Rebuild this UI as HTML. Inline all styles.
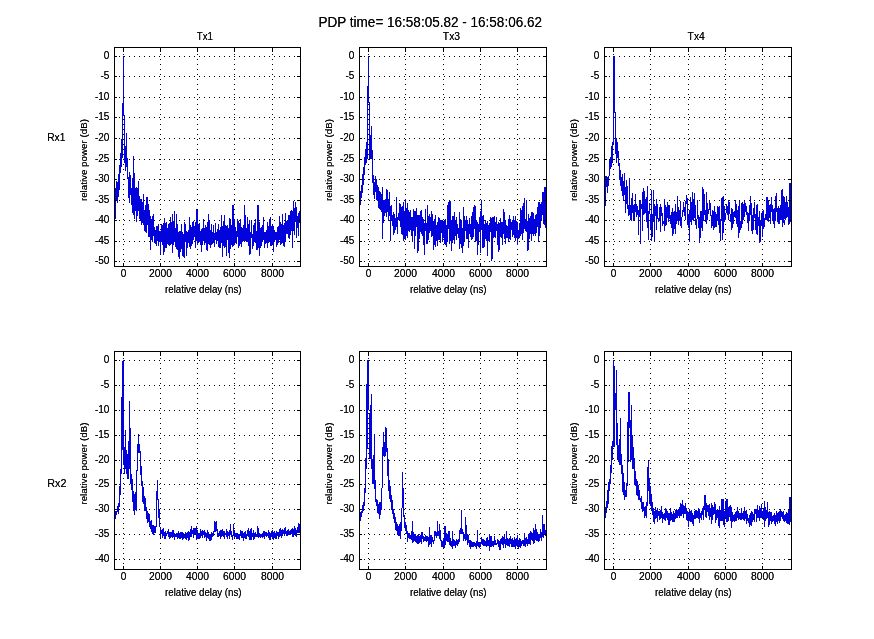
<!DOCTYPE html>
<html><head><meta charset="utf-8"><style>
html,body{margin:0;padding:0;background:#fff;width:874px;height:639px;overflow:hidden}
svg{display:block}
.t{font-family:"Liberation Sans", sans-serif;fill:#000}
</style></head><body>
<svg width="874" height="639" viewBox="0 0 874 639">
<rect width="874" height="639" fill="#fff"/>
<defs><filter id="crisp" x="0" y="0" width="100%" height="100%"><feComponentTransfer><feFuncA type="table" tableValues="0 0.75 1"/></feComponentTransfer></filter></defs>
<g class="t" filter="url(#crisp)">
<text x="318.5" y="26.6" font-size="13.9" text-anchor="start" textLength="223.5" lengthAdjust="spacingAndGlyphs">PDP time= 16:58:05.82 - 16:58:06.62</text>
<text x="196.8" y="39.9" font-size="11.0" text-anchor="start" textLength="16.2" lengthAdjust="spacingAndGlyphs">Tx1</text>
<text x="442.8" y="39.9" font-size="11.0" text-anchor="start" textLength="17.3" lengthAdjust="spacingAndGlyphs">Tx3</text>
<text x="687.6" y="39.9" font-size="11.0" text-anchor="start" textLength="17.2" lengthAdjust="spacingAndGlyphs">Tx4</text>
<text x="47.2" y="141.3" font-size="11.0" text-anchor="start" textLength="18.2" lengthAdjust="spacingAndGlyphs">Rx1</text>
<text x="47.2" y="487.1" font-size="11.0" text-anchor="start" textLength="19.2" lengthAdjust="spacingAndGlyphs">Rx2</text>
</g>
<path d="M114 56.5H300M114 76.5H300M114 97.5H300M114 117.5H300M114 138.5H300M114 159.5H300M114 179.5H300M114 200.5H300M114 220.5H300M114 241.5H300M114 261.5H300M123.5 49V266M160.5 49V266M197.5 49V266M234.5 49V266M272.5 49V266" stroke="#000" stroke-width="1" stroke-dasharray="1 4" fill="none" shape-rendering="crispEdges"/>
<polyline points="114.3,211.3 114.5,224.3 114.7,197.0 114.9,207.4 115.1,187.8 115.3,219.3 115.5,189.1 115.7,210.5 115.9,196.8 116.1,199.1 116.3,181.5 116.3,189.7 116.5,198.7 116.7,194.2 116.9,200.5 117.1,195.2 117.3,201.0 117.5,185.9 117.7,203.0 117.9,181.8 118.1,196.5 118.3,179.1 118.5,193.3 118.7,176.4 118.9,184.4 119.1,165.9 119.3,189.9 119.5,164.6 119.7,182.4 119.9,167.8 120.1,172.5 120.3,163.8 120.5,166.1 120.7,152.9 120.9,165.9 121.2,166.7 121.5,139.2 121.8,166.7 122.1,154.4 122.3,103.2 123.3,103.2 123.5,56.0 123.6,115.9 124.3,115.9 124.5,162.6 124.8,138.0 125.1,166.7 125.4,146.2 125.7,170.8 126.0,150.3 126.2,132.7 126.5,166.7 126.8,150.3 127.1,174.9 127.3,176.6 127.5,166.4 127.7,178.8 127.9,158.5 128.1,192.8 128.3,176.9 128.5,197.8 128.7,181.7 128.9,191.3 129.1,172.3 129.3,196.1 129.5,184.7 129.7,202.6 129.9,183.5 130.1,191.9 130.3,175.4 130.5,194.9 130.7,184.9 130.9,192.2 131.1,190.1 131.3,203.1 131.5,188.9 131.7,205.0 131.9,187.6 132.1,203.4 132.3,177.8 132.5,205.0 132.7,186.0 132.9,213.2 133.1,194.4 133.3,201.3 133.3,156.4 133.5,182.7 133.7,214.5 133.9,196.1 134.1,204.6 134.3,185.4 134.5,219.1 134.7,192.6 134.9,172.8 135.1,200.1 135.3,209.2 135.5,194.9 135.7,208.9 135.9,205.2 136.1,216.3 136.3,196.1 136.5,221.7 136.7,206.0 136.9,186.9 137.1,200.3 137.3,208.0 137.5,192.4 137.7,215.5 137.9,197.2 138.1,180.8 138.3,195.8 138.5,206.5 138.7,199.3 138.9,211.2 139.1,205.7 139.3,217.9 139.5,196.2 139.7,219.2 139.9,202.3 140.1,221.4 140.3,201.7 140.5,221.3 140.7,198.9 140.9,217.6 141.1,207.7 141.3,224.7 141.5,198.7 141.7,221.7 141.9,204.1 142.1,212.6 142.3,211.4 142.5,219.7 142.7,202.0 142.9,222.7 143.1,193.8 143.3,224.6 143.5,212.1 143.7,225.3 143.9,201.9 144.1,226.4 144.3,210.0 144.5,231.1 144.7,211.6 144.9,222.9 145.1,210.9 145.3,232.0 145.5,204.7 145.7,222.0 145.9,215.5 146.1,226.1 146.3,212.7 146.5,232.9 146.7,204.2 146.9,197.3 147.1,212.6 147.3,204.0 147.5,197.1 147.7,225.1 147.9,221.3 148.1,228.7 148.3,213.4 148.5,236.7 148.7,220.9 148.9,204.5 149.1,214.8 149.3,228.7 149.5,216.1 149.7,234.1 149.9,221.2 150.1,249.9 150.3,217.9 150.5,233.6 150.7,216.5 150.9,235.9 151.1,219.1 151.3,235.3 151.5,227.5 151.7,240.4 151.9,222.0 152.1,241.9 152.3,219.7 152.5,241.2 152.7,221.4 152.9,216.1 153.1,226.4 153.3,214.0 153.5,232.7 153.7,235.7 153.9,225.3 154.1,236.1 154.3,226.9 154.5,242.7 154.7,230.2 154.9,236.7 155.1,230.3 155.3,243.7 155.5,230.2 155.7,241.9 155.9,231.5 156.1,245.6 156.3,226.1 156.5,241.3 156.7,233.2 156.9,241.0 157.1,235.0 157.3,241.1 157.5,226.0 157.7,240.8 157.9,234.3 158.1,239.8 158.3,224.1 158.5,240.4 158.7,229.6 158.9,245.5 159.1,230.8 159.3,242.0 159.5,232.9 159.7,234.7 159.9,231.6 160.1,238.3 160.3,254.1 160.5,235.8 160.7,231.2 160.9,240.8 161.1,229.6 161.3,240.7 161.5,231.6 161.7,242.1 161.9,223.6 162.1,244.7 162.3,224.9 162.5,245.3 162.7,230.1 162.9,236.7 163.1,222.9 163.3,237.0 163.5,254.9 163.7,239.2 163.9,232.3 164.1,218.5 164.3,225.3 164.5,252.0 164.7,224.3 164.9,242.4 165.1,247.7 165.3,240.7 165.5,226.5 165.7,236.0 165.9,223.0 166.1,247.9 166.3,221.6 166.5,243.3 166.7,227.6 166.9,239.0 167.1,233.4 167.3,244.4 167.5,227.9 167.7,239.0 167.9,231.7 168.1,234.1 168.3,223.6 168.5,245.3 168.7,228.9 168.9,240.8 169.1,223.7 169.3,246.4 169.5,224.1 169.7,239.9 169.9,222.9 170.1,244.9 170.3,229.3 170.5,235.7 170.7,216.9 170.9,243.6 171.1,231.9 171.3,244.1 171.5,226.2 171.7,242.5 171.9,221.6 172.1,245.0 172.3,214.4 172.5,245.7 172.7,218.6 172.9,253.2 173.1,223.1 173.3,242.9 173.5,227.9 173.7,244.9 173.9,234.9 174.1,211.3 174.3,233.9 174.5,238.6 174.7,211.1 174.9,242.4 175.1,227.9 175.3,240.6 175.5,228.6 175.7,246.7 175.9,236.5 176.1,237.3 176.3,226.4 176.5,249.2 176.7,236.3 176.9,213.6 177.1,231.3 177.3,250.1 177.5,230.3 177.7,246.8 177.9,224.5 178.1,257.3 178.3,231.6 178.5,238.2 178.7,236.0 178.9,246.1 179.1,234.4 179.3,243.0 179.5,231.3 179.7,249.6 179.9,259.0 180.1,247.5 180.3,233.8 180.5,246.3 180.7,231.2 180.9,247.2 181.1,235.5 181.3,249.0 181.5,223.8 181.7,243.4 181.9,237.5 182.1,256.3 182.3,232.4 182.5,242.9 182.7,236.3 182.9,247.1 183.1,257.4 183.3,245.7 183.5,236.3 183.7,241.6 183.9,234.5 184.1,249.8 184.3,232.5 184.5,249.0 184.7,257.9 184.9,221.9 185.1,233.2 185.3,242.0 185.5,237.8 185.7,224.0 185.9,230.5 186.1,241.8 186.3,234.3 186.5,256.3 186.7,231.5 186.9,248.6 187.1,232.5 187.3,240.9 187.5,232.5 187.7,247.5 187.9,232.6 188.1,240.9 188.3,231.8 188.5,242.9 188.7,229.6 188.9,242.6 189.1,226.5 189.3,217.9 189.5,228.6 189.7,246.9 189.9,216.8 190.1,248.7 190.3,225.5 190.5,235.5 190.7,232.6 190.9,242.3 191.1,231.4 191.3,240.5 191.5,228.9 191.7,246.0 191.9,227.4 192.1,242.7 192.3,221.8 192.5,243.8 192.7,222.3 192.9,243.7 193.1,220.7 193.3,239.6 193.5,222.4 193.7,238.0 193.9,222.9 194.1,237.3 194.3,229.6 194.5,236.0 194.7,231.3 194.9,233.4 195.1,221.6 195.3,232.5 195.5,223.8 195.7,247.5 195.9,228.4 196.1,240.9 196.3,228.5 196.5,235.3 196.5,208.9 196.7,221.7 196.9,239.0 197.1,225.7 197.3,243.7 197.5,227.7 197.7,244.7 197.9,209.6 198.1,242.9 198.3,225.9 198.5,236.3 198.7,224.5 198.9,233.2 199.1,228.5 199.3,242.3 199.5,231.4 199.7,237.6 199.9,222.8 200.1,241.7 200.3,230.6 200.5,235.9 200.7,234.1 200.9,244.7 201.1,233.4 201.3,252.0 201.5,228.7 201.7,241.7 201.9,230.8 202.1,239.7 202.3,233.5 202.5,237.3 202.7,228.3 202.9,245.0 203.1,218.8 203.3,240.6 203.5,230.5 203.7,236.3 203.9,229.3 204.1,245.3 204.3,234.9 204.5,243.9 204.7,228.3 204.9,235.4 205.1,225.5 205.3,242.9 205.5,230.8 205.7,239.1 205.9,230.6 206.1,238.7 206.3,226.6 206.5,247.2 206.7,226.7 206.9,250.2 207.1,234.6 207.3,244.5 207.5,230.9 207.7,251.2 207.9,234.0 208.1,214.5 208.3,230.8 208.5,244.0 208.7,226.0 208.9,240.2 209.1,236.0 209.3,244.8 209.5,226.6 209.7,220.1 209.9,232.2 210.1,237.7 210.3,230.1 210.5,246.5 210.7,234.5 210.9,247.5 211.1,232.1 211.3,238.1 211.5,224.3 211.7,245.2 211.9,234.0 212.1,244.1 212.3,235.4 212.5,243.5 212.7,232.4 212.9,240.8 213.1,234.9 213.3,238.1 213.5,229.7 213.7,243.3 213.9,225.2 214.1,246.5 214.3,234.9 214.5,239.9 214.7,233.4 214.9,246.6 215.1,222.8 215.3,238.6 215.5,224.8 215.7,240.2 215.9,227.3 216.1,243.7 216.3,236.2 216.5,242.2 216.7,231.6 216.9,238.5 217.1,233.2 217.3,240.5 217.5,235.9 217.7,238.2 217.9,229.0 218.1,241.5 218.3,227.9 218.5,245.6 218.7,224.2 218.9,246.9 219.1,231.1 219.3,247.5 219.5,229.9 219.7,247.5 219.9,235.7 220.1,247.5 220.3,229.1 220.5,240.1 220.7,235.5 220.9,241.9 221.1,217.0 221.3,242.9 221.5,232.6 221.7,215.0 221.9,224.5 222.1,247.1 222.3,226.5 222.5,245.6 222.7,256.7 222.9,237.9 223.1,221.0 223.3,240.1 223.5,235.6 223.7,246.4 223.9,232.0 224.1,215.2 224.3,232.6 224.5,247.9 224.7,230.6 224.9,240.0 225.1,225.4 225.3,246.7 225.5,230.6 225.7,247.2 225.9,233.9 226.1,238.8 226.3,256.1 226.5,240.2 226.7,225.7 226.9,238.1 227.1,224.9 227.3,237.4 227.5,232.6 227.7,238.8 227.9,233.5 228.1,246.1 228.3,228.3 228.5,243.7 228.7,232.7 228.9,244.6 229.1,258.4 229.3,241.8 229.5,217.8 229.7,239.9 229.9,252.2 230.1,245.7 230.3,233.0 230.5,238.7 230.7,219.0 230.9,245.6 231.1,225.0 231.3,238.6 231.5,228.5 231.7,244.5 231.9,230.0 232.1,246.8 232.3,230.0 232.5,238.5 232.7,234.4 232.9,239.3 233.0,204.8 233.1,226.9 233.3,246.1 233.5,230.4 233.7,243.5 233.9,236.0 234.1,245.2 234.3,225.7 234.5,218.7 234.7,231.1 234.9,239.6 235.1,235.5 235.3,243.4 235.5,226.7 235.7,238.2 235.9,235.9 236.1,244.0 236.3,233.2 236.5,237.5 236.7,234.3 236.9,238.4 237.1,226.2 237.3,237.2 237.5,232.0 237.7,218.8 237.9,227.1 238.1,238.3 238.3,221.0 238.5,247.5 238.7,231.6 238.9,222.8 239.1,224.1 239.3,245.6 239.5,233.4 239.7,239.5 239.9,224.9 240.1,240.7 240.3,219.5 240.5,220.0 240.7,227.9 240.9,244.0 241.1,230.8 241.3,247.1 241.5,226.8 241.7,241.0 241.9,229.7 242.1,239.2 242.3,230.8 242.5,242.3 242.7,228.1 242.9,239.2 243.1,235.8 243.3,241.2 243.5,236.4 243.7,240.0 243.9,225.1 244.1,240.1 244.3,234.8 244.5,241.3 244.6,204.8 244.7,227.6 244.9,237.0 245.1,215.1 245.3,240.9 245.5,219.5 245.7,221.7 245.9,220.2 246.1,242.2 246.3,235.1 246.5,240.1 246.7,228.3 246.9,239.4 247.1,227.8 247.3,241.8 247.5,234.0 247.7,241.3 247.9,217.4 248.1,244.1 248.3,224.5 248.5,245.5 248.7,234.2 248.9,245.5 249.1,226.0 249.3,254.7 249.5,219.8 249.7,241.3 249.9,233.6 250.1,242.2 250.3,235.0 250.5,254.0 250.7,231.8 250.9,244.6 251.1,230.2 251.3,237.5 251.5,219.8 251.7,238.0 251.9,229.9 252.1,241.5 252.3,237.1 252.5,248.7 252.7,234.1 252.9,239.8 253.1,229.6 253.3,242.1 253.5,225.5 253.7,245.5 253.9,232.3 254.1,241.0 254.3,226.4 254.5,222.6 254.7,231.2 254.9,242.2 255.1,235.7 255.3,240.6 255.5,219.0 255.7,242.7 255.9,231.4 256.1,244.7 256.3,230.6 256.5,250.1 256.7,233.4 256.9,241.8 257.1,229.0 257.3,250.1 257.5,235.9 257.7,244.1 257.9,233.2 258.0,204.8 258.1,247.5 258.3,235.0 258.5,242.1 258.7,231.5 258.9,223.4 259.1,255.9 259.3,247.8 259.5,235.9 259.7,221.9 259.9,231.4 260.1,242.8 260.3,234.6 260.5,241.9 260.7,228.1 260.9,248.2 261.1,232.3 261.3,245.5 261.5,227.4 261.7,242.3 261.9,234.6 262.1,237.6 262.3,225.5 262.5,239.1 262.7,232.0 262.9,242.4 263.1,217.0 263.3,220.9 263.5,227.9 263.7,238.7 263.9,236.8 264.1,243.2 264.3,233.1 264.5,247.7 264.7,232.0 264.9,246.7 265.1,232.0 265.3,243.8 265.5,235.0 265.7,238.2 265.9,233.6 266.1,238.2 266.3,236.4 266.5,238.5 266.7,233.1 266.9,242.7 267.1,222.2 267.3,247.8 267.5,235.5 267.7,242.6 267.9,233.8 268.1,242.5 268.3,226.0 268.5,237.0 268.7,227.9 268.9,239.7 269.1,225.2 269.3,241.8 269.5,226.9 269.7,236.4 269.9,219.0 270.1,245.5 270.3,220.3 270.5,217.4 270.7,225.6 270.9,245.2 271.1,225.6 271.3,245.5 271.5,234.5 271.7,240.8 271.9,232.5 272.1,235.9 272.3,232.7 272.5,240.2 272.7,225.3 272.9,243.5 273.1,232.0 273.3,252.1 273.5,226.1 273.7,244.7 273.9,226.8 274.1,236.6 274.3,230.9 274.5,235.4 274.7,230.2 274.9,241.9 275.1,232.6 275.3,239.1 275.5,233.7 275.7,240.4 275.9,232.3 276.1,243.8 276.3,231.6 276.5,246.7 276.7,232.6 276.9,247.2 277.1,226.9 277.3,242.8 277.5,227.1 277.7,245.3 277.9,228.4 278.1,236.1 278.3,226.1 278.5,242.8 278.7,229.8 278.9,241.9 279.1,215.6 279.3,240.0 279.5,227.1 279.7,236.3 279.9,222.2 280.1,238.1 280.3,221.9 280.5,244.8 280.7,221.6 280.9,236.7 281.1,225.6 281.3,243.9 281.5,227.0 281.7,234.1 281.9,224.2 282.1,243.2 282.3,226.1 282.5,235.2 282.7,213.9 282.9,242.5 283.1,229.3 283.3,243.1 283.5,225.1 283.7,242.2 283.9,246.0 284.1,236.2 284.3,247.2 284.5,236.5 284.7,223.4 284.9,232.1 285.1,228.4 285.3,242.3 285.5,228.3 285.7,213.4 285.9,226.5 286.1,234.1 286.3,221.2 286.5,231.9 286.7,223.9 286.9,231.5 287.1,221.7 287.3,232.3 287.5,220.4 287.7,234.2 287.9,223.9 288.1,237.5 288.3,217.7 288.5,234.6 288.7,215.3 288.9,237.4 289.1,219.4 289.3,239.2 289.5,214.9 289.7,232.8 289.9,220.6 290.1,234.3 290.3,224.5 290.5,229.2 290.7,211.0 290.9,234.6 291.1,220.6 291.3,225.8 291.5,219.8 291.7,228.2 291.9,210.1 292.1,248.4 292.3,220.8 292.5,227.5 292.7,211.3 292.9,235.0 293.1,220.6 293.3,228.0 293.5,213.6 293.5,201.1 293.7,230.6 293.9,205.8 294.1,235.0 294.3,207.8 294.5,230.2 294.7,218.8 294.9,225.5 295.1,216.3 295.3,222.3 295.5,217.2 295.7,202.0 295.9,209.8 296.1,229.2 296.3,207.3 296.5,238.1 296.7,218.1 296.9,231.1 297.1,217.7 297.3,225.1 297.5,216.2 297.7,221.6 297.9,215.8 298.1,236.3 298.3,213.3 298.5,220.2 298.7,216.2 298.9,222.5 299.1,210.7 299.3,217.7 299.5,214.3 299.7,222.6" fill="none" stroke="#0303dc" stroke-width="1" shape-rendering="crispEdges"/>
<path d="M114 56.5h3M301 56.5h-4M114 76.5h3M301 76.5h-4M114 97.5h3M301 97.5h-4M114 117.5h3M301 117.5h-4M114 138.5h3M301 138.5h-4M114 159.5h3M301 159.5h-4M114 179.5h3M301 179.5h-4M114 200.5h3M301 200.5h-4M114 220.5h3M301 220.5h-4M114 241.5h3M301 241.5h-4M114 261.5h3M301 261.5h-4M123.5 267v-4M123.5 47v5M160.5 267v-4M160.5 47v5M197.5 267v-4M197.5 47v5M234.5 267v-4M234.5 47v5M272.5 267v-4M272.5 47v5" stroke="#000" stroke-width="1" fill="none" shape-rendering="crispEdges"/>
<rect x="114.5" y="47.5" width="186" height="219" fill="none" stroke="#000" stroke-width="1" shape-rendering="crispEdges"/>
<g class="t" filter="url(#crisp)">
<text x="109.4" y="58.6" font-size="10.0" text-anchor="end">0</text>
<text x="109.4" y="78.6" font-size="10.0" text-anchor="end">-5</text>
<text x="109.4" y="99.6" font-size="10.0" text-anchor="end">-10</text>
<text x="109.4" y="119.6" font-size="10.0" text-anchor="end">-15</text>
<text x="109.4" y="140.6" font-size="10.0" text-anchor="end">-20</text>
<text x="109.4" y="161.6" font-size="10.0" text-anchor="end">-25</text>
<text x="109.4" y="181.6" font-size="10.0" text-anchor="end">-30</text>
<text x="109.4" y="202.6" font-size="10.0" text-anchor="end">-35</text>
<text x="109.4" y="222.6" font-size="10.0" text-anchor="end">-40</text>
<text x="109.4" y="243.6" font-size="10.0" text-anchor="end">-45</text>
<text x="109.4" y="263.6" font-size="10.0" text-anchor="end">-50</text>
<text x="123.5" y="277.0" font-size="10.0" text-anchor="middle">0</text>
<text x="160.5" y="277.0" font-size="10.0" text-anchor="middle" textLength="23.0" lengthAdjust="spacingAndGlyphs">2000</text>
<text x="197.5" y="277.0" font-size="10.0" text-anchor="middle" textLength="23.0" lengthAdjust="spacingAndGlyphs">4000</text>
<text x="234.5" y="277.0" font-size="10.0" text-anchor="middle" textLength="23.0" lengthAdjust="spacingAndGlyphs">6000</text>
<text x="272.5" y="277.0" font-size="10.0" text-anchor="middle" textLength="23.0" lengthAdjust="spacingAndGlyphs">8000</text>
<text x="165.0" y="293.0" font-size="11.0" text-anchor="start" textLength="76.6" lengthAdjust="spacingAndGlyphs">relative delay (ns)</text>
<text transform="translate(86.5 160.1) rotate(-90)" font-size="9.6" text-anchor="middle" textLength="82" lengthAdjust="spacingAndGlyphs">relative power (dB)</text>
</g>
<path d="M359 56.5H546M359 76.5H546M359 97.5H546M359 117.5H546M359 138.5H546M359 159.5H546M359 179.5H546M359 200.5H546M359 220.5H546M359 241.5H546M359 261.5H546M368.5 49V266M405.5 49V266M443.5 49V266M480.5 49V266M517.5 49V266" stroke="#000" stroke-width="1" stroke-dasharray="1 4" fill="none" shape-rendering="crispEdges"/>
<polyline points="359.3,199.0 359.5,204.3 359.7,197.4 359.9,207.6 360.1,197.0 360.3,205.3 360.5,195.4 360.7,202.5 360.9,191.3 361.1,198.2 361.3,184.7 361.5,192.1 361.7,189.8 361.9,198.4 362.1,182.3 362.3,187.0 362.5,174.5 362.7,192.9 362.9,180.6 363.1,184.5 363.3,176.7 363.5,179.7 363.7,167.4 363.9,174.3 364.1,162.3 364.3,169.2 364.5,164.6 364.7,174.5 364.9,157.4 365.1,165.3 365.3,150.6 365.5,161.6 365.7,148.8 365.9,151.8 366.1,162.6 366.4,142.1 366.7,160.6 367.0,146.2 367.2,158.5 367.4,86.3 368.2,86.3 368.4,56.0 368.6,102.3 369.3,102.3 369.5,158.5 369.8,138.0 370.1,158.5 370.4,135.5 370.7,158.5 371.0,142.1 371.2,125.7 371.5,158.5 371.8,138.0 372.1,162.6 372.4,150.3 372.7,175.9 372.9,170.5 373.1,191.3 373.3,175.5 373.5,193.4 373.7,182.1 373.9,195.1 374.1,183.0 374.3,190.0 374.5,182.5 374.7,198.9 374.9,190.7 375.1,192.0 375.4,186.7 375.7,175.7 375.9,181.4 376.2,178.7 376.5,184.5 376.8,199.7 377.1,188.5 377.3,201.3 377.6,185.4 377.9,198.0 378.2,187.5 378.5,208.1 378.7,190.8 379.0,201.7 379.3,197.2 379.6,208.6 379.9,191.5 380.1,204.8 380.4,191.6 380.7,210.4 381.0,192.7 381.3,209.1 381.5,194.3 381.8,211.9 382.1,201.3 382.4,187.5 382.7,195.7 382.8,238.9 382.9,217.1 383.2,200.3 383.5,222.9 383.8,203.2 384.1,215.5 384.3,199.6 384.6,214.1 384.9,202.6 385.2,212.8 385.5,199.1 385.7,209.0 386.0,198.9 386.3,216.5 386.6,189.3 386.9,213.8 387.1,199.1 387.4,211.2 387.7,190.0 388.0,211.9 388.3,202.3 388.5,221.0 388.8,198.8 389.1,215.3 389.4,197.3 389.5,192.1 389.7,216.0 389.9,198.2 390.2,218.4 390.3,240.5 390.5,205.7 390.8,221.7 391.1,204.9 391.3,218.9 391.6,210.1 391.9,221.1 392.2,214.9 392.5,225.9 392.7,218.3 393.0,224.1 393.3,212.0 393.6,234.6 393.9,217.7 394.1,232.6 394.4,214.5 394.7,230.1 395.0,220.2 395.3,229.9 395.5,218.1 395.8,226.4 396.1,219.6 396.4,197.5 396.7,209.2 396.9,227.3 397.2,216.6 397.5,233.8 397.8,216.7 398.1,219.6 398.3,218.3 398.6,220.3 398.9,212.6 399.2,219.6 399.5,203.0 399.7,217.8 400.0,207.8 400.3,224.5 400.6,203.8 400.9,226.7 401.1,207.1 401.4,224.2 401.7,206.9 402.0,233.5 402.3,205.8 402.5,235.4 402.8,213.9 403.1,231.1 403.4,208.4 403.7,240.7 403.9,202.4 404.2,224.9 404.5,213.3 404.8,239.1 405.1,203.3 405.3,199.5 405.3,238.7 405.6,220.2 405.9,230.4 406.2,218.2 406.5,224.8 406.7,207.7 407.0,235.8 407.3,217.2 407.6,238.3 407.9,202.8 408.1,231.2 408.4,209.9 408.7,229.2 409.0,209.7 409.3,232.0 409.5,214.1 409.8,230.6 410.1,218.7 410.4,227.3 410.7,209.9 410.9,229.9 411.2,224.3 411.5,236.4 411.8,217.1 412.1,235.6 412.3,220.9 412.6,242.2 412.9,217.4 413.2,228.2 413.5,221.7 413.7,230.7 414.0,209.0 414.3,229.3 414.6,217.0 414.9,248.5 415.1,221.0 415.4,235.5 415.7,211.1 416.0,228.9 416.3,208.1 416.5,224.8 416.8,211.4 417.1,229.5 417.4,214.6 417.7,228.5 417.9,216.8 418.0,252.8 418.2,235.0 418.5,215.1 418.8,232.0 419.1,214.7 419.3,230.7 419.6,225.2 419.9,238.7 420.2,211.4 420.5,229.6 420.7,221.1 421.0,232.3 421.3,210.3 421.6,233.9 421.9,227.5 422.1,235.7 422.4,220.6 422.7,232.6 423.0,217.1 423.3,245.3 423.5,225.2 423.8,245.3 424.1,222.7 424.4,235.4 424.7,255.2 424.9,234.5 425.2,218.7 425.5,209.5 425.8,226.1 426.1,232.8 426.3,223.5 426.6,244.3 426.9,222.7 427.2,243.8 427.5,205.2 427.7,238.1 428.0,214.5 428.3,235.3 428.6,217.3 428.9,239.8 429.1,214.4 429.4,232.5 429.7,225.3 430.0,226.7 430.3,223.6 430.5,227.4 430.8,217.3 431.1,237.3 431.4,210.6 431.7,231.1 431.9,221.2 432.2,236.0 432.5,214.1 432.8,230.9 433.1,221.0 433.3,228.4 433.6,249.6 433.9,235.6 434.2,222.3 434.5,238.9 434.7,219.1 435.0,245.2 435.3,214.8 435.6,247.2 435.9,224.4 436.1,236.5 436.4,234.0 436.7,241.1 437.0,225.4 437.3,245.7 437.5,221.8 437.8,234.8 438.1,221.4 438.4,239.7 438.7,216.6 438.9,238.4 439.2,218.4 439.5,239.9 439.8,219.5 440.1,243.0 440.3,220.0 440.6,231.2 440.9,222.6 441.2,231.3 441.5,226.2 441.7,233.1 442.0,219.7 442.3,235.0 442.6,226.8 442.9,242.0 443.1,221.4 443.4,237.7 443.7,226.4 444.0,233.4 444.3,221.3 444.5,243.7 444.8,230.4 445.1,240.1 445.4,223.9 445.7,245.2 445.9,218.6 446.2,235.0 446.5,227.2 446.8,247.3 447.1,226.0 447.3,241.9 447.6,204.8 447.9,230.2 448.2,221.6 448.5,202.4 448.7,227.0 449.0,228.8 449.3,223.5 449.6,239.9 449.9,244.1 450.0,201.5 450.1,230.6 450.4,206.7 450.7,240.8 451.0,225.4 451.3,240.2 451.5,250.6 451.8,230.0 452.1,216.5 452.4,234.7 452.7,222.1 452.9,242.6 453.2,227.3 453.5,239.9 453.8,225.6 454.1,212.4 454.3,229.8 454.6,244.1 454.9,217.0 455.2,235.9 455.5,220.1 455.7,231.2 456.0,227.3 456.3,239.7 456.6,217.0 456.9,233.6 457.1,228.3 457.4,233.6 457.7,224.3 458.0,231.4 458.3,227.9 458.5,237.9 458.8,228.9 459.1,234.2 459.4,249.2 459.7,212.4 459.9,216.3 460.2,243.8 460.5,219.2 460.8,231.4 461.1,220.1 461.3,232.1 461.6,247.7 461.9,243.9 462.2,253.3 462.5,235.1 462.7,228.0 463.0,237.1 463.3,227.2 463.6,246.0 463.9,206.7 464.1,240.8 464.4,216.1 464.7,235.7 465.0,228.7 465.3,230.3 465.5,220.1 465.8,230.8 466.1,216.2 466.4,238.5 466.7,223.4 466.9,238.7 467.2,224.8 467.5,239.1 467.8,219.7 468.1,241.3 468.3,224.1 468.6,248.0 468.9,228.4 469.2,233.4 469.5,218.2 469.7,233.9 470.0,224.6 470.3,232.9 470.6,225.1 470.9,237.0 471.1,216.3 471.4,229.7 471.7,227.7 472.0,240.3 472.3,218.6 472.5,235.3 472.8,222.3 473.1,206.8 473.4,219.0 473.7,237.0 473.9,227.5 474.2,205.1 474.5,228.6 474.8,210.7 475.1,219.8 475.3,206.4 475.6,230.7 475.9,241.8 476.2,225.0 476.5,236.3 476.7,220.3 477.0,240.7 477.3,222.5 477.6,244.6 477.9,254.8 478.1,239.3 478.4,227.2 478.7,237.6 479.0,224.4 479.3,231.6 479.5,226.3 479.8,231.0 480.1,210.6 480.4,235.0 480.7,252.6 480.9,238.7 481.2,216.7 481.5,200.1 481.8,212.5 482.1,233.6 482.3,248.2 482.6,227.6 482.9,216.5 483.2,234.6 483.5,214.7 483.7,234.9 484.0,247.7 484.3,232.9 484.6,223.6 484.9,241.3 485.1,220.0 485.4,233.3 485.7,230.5 486.0,238.7 486.3,223.4 486.5,236.1 486.8,231.2 487.1,245.2 487.4,226.4 487.7,255.9 487.9,221.0 488.2,241.1 488.5,224.8 488.8,239.4 489.1,222.9 489.3,242.1 489.6,223.5 489.9,235.2 490.2,218.7 490.5,232.2 490.7,217.5 491.0,232.3 491.3,226.4 491.6,229.0 491.9,218.1 492.0,261.0 492.1,248.2 492.4,217.3 492.7,238.7 493.0,216.9 493.3,232.5 493.5,216.8 493.8,238.4 494.1,220.3 494.4,234.9 494.7,216.0 494.9,237.1 495.2,222.1 495.5,237.6 495.8,223.7 496.1,230.3 496.3,217.5 496.6,230.5 496.9,219.6 497.2,229.4 497.5,225.1 497.7,238.0 498.0,245.3 498.3,235.9 498.6,222.3 498.9,251.7 499.1,223.3 499.4,234.9 499.7,249.9 500.0,238.4 500.3,227.4 500.5,235.9 500.8,218.1 501.1,237.5 501.4,222.2 501.7,234.7 501.9,224.0 502.2,244.8 502.5,222.2 502.8,243.7 503.1,221.7 503.3,234.2 503.6,220.1 503.9,208.8 504.2,216.7 504.5,239.3 504.7,219.6 505.0,233.2 505.3,219.6 505.6,243.6 505.9,221.6 506.1,231.0 506.4,230.3 506.7,237.9 507.0,225.2 507.3,233.9 507.5,229.0 507.8,238.0 508.1,228.7 508.4,241.5 508.7,218.7 508.9,241.9 509.2,217.3 509.5,239.3 509.8,215.5 510.1,240.1 510.3,222.8 510.6,239.6 510.9,219.3 511.2,227.3 511.5,226.1 511.7,229.7 512.0,224.3 512.3,236.7 512.6,224.4 512.9,226.4 513.1,216.4 513.4,234.8 513.7,224.9 514.0,229.7 514.3,220.3 514.5,237.7 514.8,221.7 515.1,230.2 515.4,223.3 515.7,240.5 515.9,216.5 516.2,237.8 516.5,221.0 516.8,232.3 517.1,223.9 517.3,244.6 517.6,222.3 517.9,243.5 518.2,230.4 518.5,236.4 518.7,231.7 519.0,238.7 519.3,228.5 519.6,235.9 519.9,223.2 520.1,234.5 520.4,219.5 520.7,236.1 521.0,207.6 521.3,231.4 521.5,222.5 521.8,233.9 522.1,216.2 522.4,225.6 522.7,239.8 522.9,205.8 523.2,214.2 523.5,233.0 523.8,216.7 524.1,198.5 524.3,219.9 524.6,228.9 524.9,214.2 525.2,231.1 525.5,219.3 525.7,225.5 526.0,222.2 526.3,199.8 526.6,222.5 526.9,231.9 527.1,220.7 527.4,236.8 527.7,222.9 528.0,251.3 528.3,213.8 528.5,234.6 528.8,222.6 529.1,227.2 529.4,218.4 529.7,239.3 529.9,222.8 530.2,228.3 530.5,216.0 530.8,233.9 531.1,215.0 531.3,241.4 531.6,212.4 531.9,232.8 532.2,218.2 532.5,230.5 532.7,211.9 533.0,234.3 533.3,213.1 533.6,236.0 533.9,218.9 534.1,233.9 534.4,219.4 534.7,227.7 535.0,218.7 535.3,235.5 535.5,215.3 535.8,222.8 536.1,216.0 536.4,222.5 536.7,214.5 536.9,232.6 537.2,212.7 537.5,226.7 537.8,207.0 538.1,218.0 538.3,202.4 538.6,242.1 538.9,203.9 539.2,235.9 539.5,207.7 539.7,234.4 540.0,202.0 540.3,227.7 540.6,208.5 540.9,225.4 541.1,202.8 541.4,221.4 541.7,201.9 542.0,216.6 542.3,201.3 542.5,213.8 542.8,209.3 543.0,192.1 543.1,213.7 543.4,206.0 543.7,223.9 543.9,198.6 544.2,195.5 544.5,204.5 544.8,224.6 545.0,187.2 545.1,208.5 545.3,227.5 545.6,201.6" fill="none" stroke="#0303dc" stroke-width="1" shape-rendering="crispEdges"/>
<path d="M359 56.5h3M547 56.5h-4M359 76.5h3M547 76.5h-4M359 97.5h3M547 97.5h-4M359 117.5h3M547 117.5h-4M359 138.5h3M547 138.5h-4M359 159.5h3M547 159.5h-4M359 179.5h3M547 179.5h-4M359 200.5h3M547 200.5h-4M359 220.5h3M547 220.5h-4M359 241.5h3M547 241.5h-4M359 261.5h3M547 261.5h-4M368.5 267v-4M368.5 47v5M405.5 267v-4M405.5 47v5M443.5 267v-4M443.5 47v5M480.5 267v-4M480.5 47v5M517.5 267v-4M517.5 47v5" stroke="#000" stroke-width="1" fill="none" shape-rendering="crispEdges"/>
<rect x="359.5" y="47.5" width="187" height="219" fill="none" stroke="#000" stroke-width="1" shape-rendering="crispEdges"/>
<g class="t" filter="url(#crisp)">
<text x="354.4" y="58.6" font-size="10.0" text-anchor="end">0</text>
<text x="354.4" y="78.6" font-size="10.0" text-anchor="end">-5</text>
<text x="354.4" y="99.6" font-size="10.0" text-anchor="end">-10</text>
<text x="354.4" y="119.6" font-size="10.0" text-anchor="end">-15</text>
<text x="354.4" y="140.6" font-size="10.0" text-anchor="end">-20</text>
<text x="354.4" y="161.6" font-size="10.0" text-anchor="end">-25</text>
<text x="354.4" y="181.6" font-size="10.0" text-anchor="end">-30</text>
<text x="354.4" y="202.6" font-size="10.0" text-anchor="end">-35</text>
<text x="354.4" y="222.6" font-size="10.0" text-anchor="end">-40</text>
<text x="354.4" y="243.6" font-size="10.0" text-anchor="end">-45</text>
<text x="354.4" y="263.6" font-size="10.0" text-anchor="end">-50</text>
<text x="368.5" y="277.0" font-size="10.0" text-anchor="middle">0</text>
<text x="405.5" y="277.0" font-size="10.0" text-anchor="middle" textLength="23.0" lengthAdjust="spacingAndGlyphs">2000</text>
<text x="443.5" y="277.0" font-size="10.0" text-anchor="middle" textLength="23.0" lengthAdjust="spacingAndGlyphs">4000</text>
<text x="480.5" y="277.0" font-size="10.0" text-anchor="middle" textLength="23.0" lengthAdjust="spacingAndGlyphs">6000</text>
<text x="517.5" y="277.0" font-size="10.0" text-anchor="middle" textLength="23.0" lengthAdjust="spacingAndGlyphs">8000</text>
<text x="410.0" y="293.0" font-size="11.0" text-anchor="start" textLength="76.6" lengthAdjust="spacingAndGlyphs">relative delay (ns)</text>
<text transform="translate(331.5 160.1) rotate(-90)" font-size="9.6" text-anchor="middle" textLength="82" lengthAdjust="spacingAndGlyphs">relative power (dB)</text>
</g>
<path d="M604 56.5H791M604 76.5H791M604 97.5H791M604 117.5H791M604 138.5H791M604 159.5H791M604 179.5H791M604 200.5H791M604 220.5H791M604 241.5H791M604 261.5H791M613.5 49V266M650.5 49V266M688.5 49V266M725.5 49V266M762.5 49V266" stroke="#000" stroke-width="1" stroke-dasharray="1 4" fill="none" shape-rendering="crispEdges"/>
<polyline points="604.3,198.7 604.5,194.0 604.7,180.9 604.9,187.9 605.1,205.9 605.3,197.5 605.5,201.0 605.7,179.1 605.9,176.5 605.9,180.7 606.1,180.6 606.3,179.9 606.5,181.7 606.7,175.6 606.9,179.4 607.1,192.8 607.3,177.0 607.5,185.5 607.7,178.4 607.9,182.3 608.1,184.7 608.3,185.4 608.5,183.2 608.7,184.9 608.9,185.8 609.1,168.7 609.3,166.2 609.5,159.6 609.7,163.6 609.9,164.6 610.1,159.0 610.3,169.2 610.5,156.9 610.7,159.7 610.9,163.1 611.1,160.8 611.3,152.8 611.6,166.7 611.9,146.2 612.2,162.6 612.5,142.1 612.8,158.5 613.1,137.6 613.3,56.0 614.3,56.0 614.5,112.2 615.3,112.2 615.5,135.1 615.8,142.1 616.1,158.5 616.4,138.0 616.7,162.6 617.0,142.1 617.3,144.0 617.5,158.3 617.7,142.3 617.9,152.1 618.1,151.4 618.3,164.5 618.5,157.5 618.7,160.2 618.9,161.9 619.1,169.0 619.3,162.6 619.5,173.2 619.7,175.8 619.9,179.8 620.1,169.6 620.3,183.2 620.5,181.9 620.7,186.3 620.9,175.4 621.1,178.5 621.3,179.7 621.5,191.3 621.7,183.6 621.9,186.7 622.1,193.3 622.3,196.4 622.5,173.8 622.7,195.7 622.9,192.3 623.1,194.0 623.3,186.5 623.5,201.0 623.6,180.6 623.7,191.6 623.9,195.8 624.1,172.8 624.5,194.4 624.9,194.9 625.3,189.2 625.7,212.5 626.1,180.4 626.5,204.1 626.9,183.6 627.3,193.6 627.7,206.5 628.1,209.0 628.5,215.9 628.9,215.7 629.3,177.6 629.7,215.3 630.1,205.2 630.5,214.6 630.9,220.0 631.3,221.1 631.7,218.1 632.1,193.2 632.5,213.2 632.9,197.7 633.3,220.7 633.7,217.4 634.1,211.1 634.5,203.9 634.9,219.8 635.3,194.1 635.7,206.3 636.1,211.3 636.5,216.6 636.9,204.1 637.3,210.3 637.7,214.6 638.1,210.5 638.5,234.7 638.9,216.0 639.3,216.8 639.7,203.3 640.1,200.1 640.5,243.7 640.9,204.3 641.3,204.8 641.7,209.3 642.1,204.4 642.5,231.4 642.9,191.9 643.3,214.8 643.7,188.0 644.1,213.8 644.5,191.2 644.9,194.5 645.3,209.7 645.7,199.2 646.1,217.1 646.5,197.1 646.9,222.0 647.3,213.7 647.7,185.8 648.1,239.5 648.5,221.0 648.9,214.5 649.3,202.7 649.7,205.6 650.1,216.0 650.5,229.0 650.9,224.7 651.3,190.2 651.7,199.8 652.0,240.5 652.1,213.8 652.5,221.0 652.9,228.1 653.3,205.7 653.7,190.5 654.1,217.2 654.5,241.4 654.9,204.5 655.3,208.4 655.7,212.5 656.1,216.8 656.5,229.8 656.9,198.6 657.3,216.5 657.7,211.7 658.1,221.6 658.5,217.7 658.9,219.1 659.3,217.5 659.7,219.5 660.1,204.5 660.5,232.4 660.9,216.6 661.3,207.4 661.7,216.1 662.1,213.5 662.5,226.0 662.9,224.8 663.3,221.2 663.7,223.6 664.1,221.4 664.5,230.5 664.9,198.6 665.3,222.1 665.7,226.3 666.1,224.7 666.5,211.0 666.9,207.9 667.3,206.4 667.7,202.2 668.1,222.2 668.5,210.9 668.9,204.8 669.3,207.6 669.7,215.7 670.1,220.4 670.5,214.7 670.9,222.7 671.3,228.2 671.7,227.3 672.1,207.6 672.5,211.6 672.9,236.4 673.3,228.2 673.7,215.6 674.1,211.1 674.5,219.4 674.9,226.6 675.3,233.8 675.7,204.4 676.1,213.9 676.5,224.3 676.9,218.5 677.3,196.0 677.7,207.5 678.1,224.9 678.5,214.9 678.9,206.8 679.3,216.7 679.7,220.5 680.1,213.1 680.5,200.8 680.9,225.3 681.3,226.1 681.7,222.3 682.1,216.1 682.5,209.8 682.9,214.2 683.3,207.8 683.7,201.9 684.1,208.9 684.5,215.7 684.9,208.6 685.3,219.8 685.7,202.7 686.1,200.7 686.5,203.7 686.9,194.7 687.3,205.8 687.7,213.4 688.1,228.0 688.5,219.1 688.9,215.9 689.3,209.9 689.7,241.7 690.1,217.1 690.5,207.8 690.9,197.1 691.3,213.3 691.7,225.3 692.1,203.6 692.5,192.5 692.9,220.1 693.3,212.1 693.7,220.7 694.1,193.5 694.5,217.7 694.9,201.8 695.3,214.5 695.7,221.8 696.1,226.2 696.5,228.5 696.9,226.6 697.3,200.1 697.7,214.1 698.1,215.3 698.5,228.4 698.9,215.6 699.3,227.3 699.7,216.8 700.0,242.5 700.1,211.2 700.5,226.1 700.9,214.4 701.3,211.0 701.7,218.3 702.1,230.8 702.5,219.7 702.9,205.2 703.0,187.2 703.3,207.8 703.7,220.9 704.1,213.1 704.5,193.6 704.9,212.7 705.3,221.5 705.7,210.0 706.1,224.0 706.5,192.5 706.9,224.1 707.3,210.6 707.7,203.0 708.1,211.0 708.5,213.4 708.9,213.3 709.3,200.7 709.7,206.6 710.1,203.2 710.5,204.7 710.9,212.3 711.3,224.5 711.7,227.5 712.1,212.4 712.5,209.8 712.9,226.3 713.3,216.6 713.7,230.4 714.1,205.8 714.5,212.9 714.9,228.2 715.3,223.6 715.7,212.0 716.1,227.1 716.5,226.1 716.9,217.4 717.3,206.2 717.7,214.4 718.1,222.5 718.5,225.3 718.9,207.5 719.3,210.5 719.7,206.4 720.1,241.0 720.5,229.9 720.9,222.5 721.3,210.3 721.7,197.7 722.1,227.1 722.5,196.8 722.9,240.0 723.3,217.5 723.7,196.2 724.1,209.2 724.5,221.8 724.9,221.0 725.3,213.9 725.7,219.7 726.1,211.2 726.5,208.3 726.9,204.3 727.3,210.9 727.7,213.9 728.1,214.9 728.5,219.5 728.9,199.7 729.3,207.7 729.7,209.2 730.1,215.5 730.5,217.2 730.9,219.0 731.3,229.7 731.7,207.9 732.1,209.5 732.5,227.5 732.9,225.9 733.3,217.6 733.7,213.3 734.1,211.3 734.5,213.9 734.9,215.9 735.3,218.1 735.7,200.3 736.1,219.0 736.5,204.4 736.9,223.4 737.3,226.9 737.7,223.9 738.1,206.1 738.5,223.6 738.9,238.3 739.3,219.5 739.7,201.5 740.1,226.6 740.5,228.9 740.9,229.5 741.3,224.5 741.7,208.0 742.1,201.6 742.5,212.2 742.9,223.8 743.3,209.2 743.7,204.3 744.1,217.2 744.5,209.9 744.9,201.2 745.3,209.5 745.7,203.1 746.1,214.5 746.5,206.1 746.9,211.0 747.3,213.3 747.7,219.1 748.1,223.6 748.5,230.8 748.9,216.5 749.3,205.1 749.7,220.2 750.1,202.8 750.5,195.9 750.9,214.9 751.3,203.0 751.7,220.1 752.1,234.4 752.5,214.9 752.9,223.5 753.3,224.6 753.7,229.8 754.1,201.7 754.5,206.4 754.9,216.7 755.3,222.0 755.7,214.1 756.1,233.9 756.5,205.3 756.9,215.3 757.3,204.2 757.7,235.0 758.1,218.2 758.5,226.1 758.9,219.9 759.3,210.9 759.7,222.2 760.0,243.4 760.1,231.0 760.5,227.6 760.9,223.7 761.3,213.0 761.7,217.2 762.1,227.7 762.5,211.3 762.9,237.1 763.3,210.4 763.7,222.0 764.1,227.4 764.5,218.4 764.9,221.7 765.3,216.2 765.7,213.9 766.1,219.8 766.5,197.0 766.9,219.7 767.3,219.9 767.7,197.0 768.1,222.0 768.5,209.5 768.9,200.5 769.3,217.5 769.7,212.6 770.1,215.8 770.5,223.6 770.9,204.0 771.3,212.3 771.7,197.3 772.1,206.9 772.5,213.5 772.9,220.3 773.3,224.0 773.7,211.3 774.1,208.1 774.5,227.6 774.9,215.1 775.3,220.8 775.7,208.4 776.1,193.4 776.5,208.6 776.9,212.1 777.3,208.0 777.7,214.4 778.1,223.9 778.5,206.2 778.9,207.4 779.3,224.2 779.7,216.5 780.1,205.4 780.5,219.7 780.9,205.4 781.3,213.4 781.7,190.5 782.1,226.9 782.5,214.8 782.9,188.9 783.3,214.6 783.7,214.8 784.1,225.4 784.5,219.5 784.9,196.6 785.3,215.5 785.7,220.1 786.1,217.8 786.5,196.3 786.9,196.7 787.3,217.1 787.7,202.3 788.1,207.8 788.5,208.1 788.9,224.7 789.3,221.0 789.7,215.7 790.0,183.1 790.1,219.6 790.5,222.0" fill="none" stroke="#0303dc" stroke-width="1" shape-rendering="crispEdges"/>
<path d="M604 56.5h3M792 56.5h-4M604 76.5h3M792 76.5h-4M604 97.5h3M792 97.5h-4M604 117.5h3M792 117.5h-4M604 138.5h3M792 138.5h-4M604 159.5h3M792 159.5h-4M604 179.5h3M792 179.5h-4M604 200.5h3M792 200.5h-4M604 220.5h3M792 220.5h-4M604 241.5h3M792 241.5h-4M604 261.5h3M792 261.5h-4M613.5 267v-4M613.5 47v5M650.5 267v-4M650.5 47v5M688.5 267v-4M688.5 47v5M725.5 267v-4M725.5 47v5M762.5 267v-4M762.5 47v5" stroke="#000" stroke-width="1" fill="none" shape-rendering="crispEdges"/>
<rect x="604.5" y="47.5" width="187" height="219" fill="none" stroke="#000" stroke-width="1" shape-rendering="crispEdges"/>
<g class="t" filter="url(#crisp)">
<text x="599.4" y="58.6" font-size="10.0" text-anchor="end">0</text>
<text x="599.4" y="78.6" font-size="10.0" text-anchor="end">-5</text>
<text x="599.4" y="99.6" font-size="10.0" text-anchor="end">-10</text>
<text x="599.4" y="119.6" font-size="10.0" text-anchor="end">-15</text>
<text x="599.4" y="140.6" font-size="10.0" text-anchor="end">-20</text>
<text x="599.4" y="161.6" font-size="10.0" text-anchor="end">-25</text>
<text x="599.4" y="181.6" font-size="10.0" text-anchor="end">-30</text>
<text x="599.4" y="202.6" font-size="10.0" text-anchor="end">-35</text>
<text x="599.4" y="222.6" font-size="10.0" text-anchor="end">-40</text>
<text x="599.4" y="243.6" font-size="10.0" text-anchor="end">-45</text>
<text x="599.4" y="263.6" font-size="10.0" text-anchor="end">-50</text>
<text x="613.5" y="277.0" font-size="10.0" text-anchor="middle">0</text>
<text x="650.5" y="277.0" font-size="10.0" text-anchor="middle" textLength="23.0" lengthAdjust="spacingAndGlyphs">2000</text>
<text x="688.5" y="277.0" font-size="10.0" text-anchor="middle" textLength="23.0" lengthAdjust="spacingAndGlyphs">4000</text>
<text x="725.5" y="277.0" font-size="10.0" text-anchor="middle" textLength="23.0" lengthAdjust="spacingAndGlyphs">6000</text>
<text x="762.5" y="277.0" font-size="10.0" text-anchor="middle" textLength="23.0" lengthAdjust="spacingAndGlyphs">8000</text>
<text x="655.0" y="293.0" font-size="11.0" text-anchor="start" textLength="76.6" lengthAdjust="spacingAndGlyphs">relative delay (ns)</text>
<text transform="translate(576.5 160.1) rotate(-90)" font-size="9.6" text-anchor="middle" textLength="82" lengthAdjust="spacingAndGlyphs">relative power (dB)</text>
</g>
<path d="M114 360.5H300M114 385.5H300M114 410.5H300M114 435.5H300M114 460.5H300M114 484.5H300M114 509.5H300M114 534.5H300M114 559.5H300M123.5 353V569M160.5 353V569M197.5 353V569M234.5 353V569M272.5 353V569" stroke="#000" stroke-width="1" stroke-dasharray="1 4" fill="none" shape-rendering="crispEdges"/>
<polyline points="114.3,521.0 114.5,521.2 114.7,515.0 114.9,519.2 115.1,515.3 115.3,518.5 115.5,511.3 115.7,513.7 115.9,510.6 116.1,515.3 116.3,511.6 116.5,514.9 116.7,511.3 116.9,513.0 117.1,510.9 117.3,512.0 117.5,506.3 117.7,512.4 117.9,505.6 118.1,512.1 118.3,506.8 118.5,513.8 118.7,505.8 118.9,507.4 119.1,500.4 119.3,506.5 119.5,497.8 119.7,497.7 119.9,485.6 120.1,495.4 120.3,483.0 120.5,486.5 120.7,473.3 120.9,483.3 121.1,460.5 121.3,463.9 121.6,474.4 121.9,453.0 122.1,361.5 122.4,449.6 122.7,447.1 123.1,360.0 123.4,447.1 123.8,464.5 124.1,449.6 124.4,474.4 124.7,447.1 125.0,469.4 125.3,449.6 125.6,429.6 125.9,469.4 126.2,449.6 126.5,474.4 126.8,454.5 127.1,479.4 127.4,454.5 127.7,474.4 128.0,459.5 128.3,479.4 128.6,459.5 128.9,469.4 129.2,400.8 129.5,469.4 130.1,427.7 130.4,484.4 130.8,464.5 131.1,489.4 131.4,474.4 131.7,487.4 131.9,482.1 132.1,496.4 132.3,478.6 132.5,496.4 132.7,486.5 132.9,501.6 133.1,493.4 133.3,506.9 133.5,491.0 133.7,511.1 133.9,497.7 134.1,514.7 134.3,501.2 134.5,511.5 134.7,494.2 134.9,512.2 135.1,495.2 135.3,508.0 135.5,492.1 135.7,510.4 135.9,499.0 136.1,510.6 136.3,487.4 136.5,491.8 136.7,478.6 136.9,476.4 137.1,465.5 137.3,471.3 137.5,452.4 137.7,455.6 137.9,444.0 138.1,453.2 138.3,440.8 138.3,434.1 138.5,453.2 138.7,443.7 138.9,450.7 139.1,443.7 139.3,450.0 139.5,447.3 139.7,453.3 139.9,446.2 140.1,458.0 140.3,450.7 140.5,463.6 140.7,455.6 140.9,475.1 141.1,465.9 141.3,485.2 141.5,468.7 141.7,486.4 141.9,481.8 142.1,489.9 142.3,484.8 142.5,495.9 142.7,481.5 142.9,502.1 143.1,493.4 143.3,502.1 143.5,487.2 143.7,502.7 143.9,497.8 144.1,507.7 144.3,497.2 144.5,510.5 144.7,496.1 144.9,511.1 145.1,498.4 145.3,507.3 145.5,501.7 145.7,510.6 145.9,508.3 146.1,512.8 146.3,506.8 146.5,511.8 146.7,509.5 146.9,518.7 147.1,510.9 147.3,518.5 147.5,514.0 147.7,522.9 147.9,516.0 148.1,522.4 148.3,514.7 148.5,519.1 148.7,513.5 148.9,521.5 149.1,514.5 149.3,526.7 149.5,516.0 149.7,527.1 149.9,520.0 150.1,525.6 150.3,521.3 150.5,529.4 150.7,524.1 150.9,525.6 151.1,519.6 151.3,530.4 151.5,522.0 151.7,532.3 151.9,524.0 152.1,532.4 152.3,525.5 152.5,533.7 152.7,528.6 152.9,531.9 153.1,526.6 153.3,534.5 153.5,527.8 153.7,533.9 153.9,525.2 154.1,532.6 154.3,529.5 154.5,530.8 154.7,526.5 154.9,533.1 155.1,529.1 155.3,533.4 155.5,530.6 155.7,530.4 155.9,526.5 156.1,527.2 156.3,519.9 156.5,515.2 156.7,503.0 156.9,498.5 157.1,485.2 157.2,480.4 157.3,490.7 157.5,486.2 157.7,500.1 157.9,489.8 158.1,506.7 158.3,499.3 158.5,508.4 158.7,504.3 158.9,517.5 159.1,510.5 159.3,519.1 159.5,517.9 159.7,527.1 159.9,523.0 160.1,530.3 160.3,527.1 160.5,533.4 160.7,530.3 160.9,538.2 161.1,530.6 161.3,533.8 161.5,529.9 161.7,533.8 161.9,530.6 162.1,532.8 162.3,532.1 162.5,537.9 162.7,529.0 162.9,534.0 163.1,530.3 163.3,533.9 163.5,530.7 163.7,535.8 163.9,528.2 164.1,536.2 164.3,532.4 164.5,533.6 164.7,532.4 164.9,539.2 165.1,531.9 165.3,539.3 165.5,530.6 165.7,535.6 165.9,531.7 166.1,535.0 166.3,533.2 166.5,535.9 166.7,533.5 166.9,534.2 167.1,533.1 167.3,534.3 167.5,532.4 167.7,534.3 167.9,530.9 168.1,537.1 168.3,533.3 168.5,537.4 168.7,529.7 168.9,530.0 169.1,539.1 169.3,537.0 169.5,531.6 169.7,535.1 169.9,533.3 170.1,537.3 170.3,531.7 170.5,537.7 170.7,531.9 170.9,537.0 171.1,534.1 171.3,535.5 171.5,534.6 171.7,537.0 171.9,534.4 172.1,530.3 172.3,533.2 172.5,537.9 172.7,534.6 172.9,536.0 173.1,530.4 173.3,536.7 173.5,532.7 173.7,530.6 173.9,534.3 174.1,537.5 174.3,533.0 174.5,537.2 174.7,540.1 174.9,535.9 175.1,535.0 175.3,536.7 175.5,534.4 175.7,535.9 175.9,535.2 176.1,537.1 176.3,533.2 176.5,536.9 176.7,535.2 176.9,536.7 177.1,534.3 177.3,537.9 177.5,533.2 177.7,538.5 177.9,534.6 178.1,538.3 178.3,533.8 178.5,531.4 178.7,535.1 178.9,537.9 179.1,533.2 179.3,536.5 179.5,535.7 179.7,538.5 179.9,534.2 180.1,532.2 180.3,532.2 180.5,537.3 180.7,539.1 180.9,532.4 181.1,534.7 181.3,536.8 181.5,533.6 181.7,531.8 181.9,535.8 182.1,539.8 182.3,531.6 182.5,536.2 182.7,535.7 182.9,538.2 183.1,535.0 183.3,538.6 183.5,533.2 183.7,538.3 183.9,533.7 184.1,538.1 184.3,535.1 184.5,536.0 184.7,534.9 184.9,538.1 185.1,535.0 185.3,538.5 185.5,532.1 185.7,538.6 185.9,532.8 186.1,540.4 186.3,532.8 186.5,537.4 186.7,539.6 186.9,535.7 187.1,533.5 187.3,537.9 187.5,532.0 187.7,537.0 187.9,532.5 188.1,538.1 188.3,530.9 188.5,537.8 188.7,540.7 188.9,535.5 189.1,540.0 189.3,534.7 189.5,539.6 189.7,535.5 189.9,532.2 190.1,534.6 190.3,532.7 190.5,536.7 190.7,531.9 190.9,533.3 191.1,526.2 191.3,536.7 191.5,531.3 191.7,533.2 191.9,529.8 192.1,533.1 192.3,530.1 192.5,533.0 192.7,529.8 192.9,533.7 193.1,531.4 193.3,537.7 193.5,530.9 193.7,531.7 193.9,528.0 194.1,535.3 194.3,527.8 194.5,534.2 194.7,527.9 194.9,535.1 195.1,527.6 195.3,534.3 195.5,529.7 195.7,534.5 195.9,530.8 196.1,532.3 196.3,537.5 196.5,526.1 196.7,530.5 196.9,540.2 197.1,538.4 197.3,536.4 197.5,531.0 197.7,535.9 197.9,530.5 198.1,537.1 198.3,539.3 198.5,537.3 198.7,532.6 198.9,535.0 199.1,532.6 199.3,537.5 199.5,533.4 199.7,535.9 199.9,539.2 200.1,536.1 200.3,529.0 200.5,534.7 200.7,532.1 200.9,538.4 201.1,531.1 201.3,535.0 201.5,532.7 201.7,535.2 201.9,533.7 202.1,537.8 202.3,530.7 202.5,530.5 202.7,534.6 202.9,536.6 203.1,534.4 203.3,535.3 203.5,531.6 203.7,535.2 203.9,531.9 204.1,529.7 204.3,532.3 204.5,535.4 204.7,532.1 204.9,537.7 205.1,532.9 205.3,537.3 205.5,532.2 205.7,535.4 205.9,534.7 206.1,535.4 206.3,541.4 206.5,538.7 206.7,533.3 206.9,541.3 207.1,534.5 207.3,535.9 207.5,532.1 207.7,529.9 207.9,535.0 208.1,538.7 208.3,533.8 208.5,537.1 208.7,532.4 208.9,536.3 209.1,535.4 209.3,536.7 209.5,535.5 209.7,537.0 209.9,539.4 210.1,541.4 210.3,533.9 210.5,536.6 210.7,534.2 210.9,537.4 211.1,533.6 211.3,539.5 211.5,540.2 211.7,538.3 211.9,531.9 212.1,536.9 212.3,533.1 212.5,535.4 212.7,535.0 212.9,535.9 213.1,534.0 213.3,535.5 213.5,531.4 213.7,535.0 213.9,531.3 214.1,532.0 214.3,527.6 214.5,531.5 214.5,521.2 214.7,526.9 214.9,531.8 215.1,525.6 215.3,521.9 215.5,528.9 215.7,531.5 215.9,527.4 216.1,529.6 216.3,526.8 216.5,531.4 216.5,521.2 216.7,525.9 216.9,531.0 217.1,530.6 217.3,534.0 217.5,531.0 217.7,536.5 217.9,533.1 218.1,536.5 218.3,532.6 218.5,534.1 218.7,533.4 218.9,536.0 219.1,531.3 219.3,535.2 219.5,532.0 219.7,534.9 219.9,531.7 220.1,539.1 220.3,530.3 220.5,536.4 220.7,532.3 220.9,535.2 221.1,533.3 221.3,534.1 221.5,531.7 221.7,536.6 221.9,531.5 222.1,528.6 222.3,532.9 222.5,536.2 222.7,533.2 222.9,534.4 223.1,530.9 223.3,534.9 223.5,533.1 223.7,536.9 223.9,533.2 224.1,534.0 224.3,532.3 224.5,535.2 224.7,531.4 224.9,539.2 225.1,532.8 225.3,534.3 225.5,533.3 225.7,535.1 225.9,532.9 226.1,536.8 226.3,533.4 226.5,534.8 226.7,528.7 226.9,535.2 227.1,531.3 227.3,536.9 227.5,537.5 227.7,536.8 227.9,531.1 228.1,535.9 228.3,533.0 228.5,534.5 228.7,531.9 228.9,534.8 229.1,530.9 229.3,538.8 229.5,531.5 229.7,536.5 229.9,530.4 230.1,534.2 230.3,531.2 230.5,535.3 230.5,524.2 230.7,532.3 230.9,534.9 231.1,531.2 231.3,535.9 231.5,532.5 231.7,537.4 231.9,532.5 232.1,537.3 232.3,540.0 232.5,537.3 232.7,534.7 232.9,538.0 233.1,533.7 233.3,535.2 233.3,524.2 233.5,533.2 233.7,536.1 233.9,534.0 234.1,536.8 234.3,530.2 234.5,538.2 234.7,534.0 234.9,538.4 235.1,533.7 235.3,537.2 235.5,532.6 235.7,537.1 235.9,533.2 236.1,537.0 236.3,533.0 236.5,537.4 236.7,535.4 236.9,538.7 237.1,533.1 237.3,538.5 237.5,534.6 237.7,536.8 237.9,534.0 238.1,538.8 238.3,534.8 238.5,536.3 238.7,534.5 238.9,539.0 239.1,539.3 239.3,537.9 239.5,534.8 239.7,538.3 239.9,533.8 240.1,535.9 240.3,535.5 240.5,536.0 240.7,530.8 240.9,529.8 241.1,533.9 241.3,537.7 241.5,531.5 241.7,537.9 241.9,535.0 242.1,537.9 242.3,531.4 242.5,537.9 242.7,533.4 242.9,531.3 243.1,541.0 243.3,536.9 243.5,535.5 243.7,538.9 243.9,533.3 244.1,538.3 244.3,534.1 244.5,537.4 244.7,532.4 244.9,538.0 245.1,533.5 245.3,538.5 245.5,533.7 245.7,537.7 245.9,531.4 246.1,538.5 246.3,534.7 246.5,535.4 246.7,534.4 246.9,535.3 247.1,534.5 247.3,535.5 247.5,533.5 247.7,535.7 247.9,530.7 248.1,529.4 248.3,531.2 248.5,536.7 248.7,528.1 248.9,536.3 249.1,533.2 249.3,539.5 249.5,530.6 249.7,535.0 249.9,532.6 250.1,539.1 250.3,529.1 250.5,536.6 250.7,540.0 250.9,535.8 251.1,533.0 251.3,527.8 251.5,539.8 251.7,538.9 251.9,533.3 252.1,535.6 252.3,532.7 252.5,536.6 252.7,533.5 252.9,535.1 253.1,533.6 253.3,539.6 253.5,530.4 253.7,539.2 253.9,532.0 254.1,538.9 254.3,534.1 254.5,537.1 254.7,532.6 254.9,535.8 255.1,533.6 255.3,534.7 255.5,532.1 255.7,536.9 255.9,534.3 256.1,535.2 256.3,534.5 256.5,535.1 256.7,534.3 256.9,536.4 257.1,532.8 257.3,536.5 257.5,533.0 257.7,536.5 257.9,534.1 258.0,526.2 258.1,537.6 258.3,532.2 258.5,535.7 258.7,534.3 258.9,536.6 259.1,533.4 259.3,535.9 259.5,532.9 259.7,536.6 259.9,534.1 260.1,535.8 260.3,535.1 260.5,535.3 260.7,534.0 260.9,537.8 261.1,534.5 261.3,536.0 261.5,534.9 261.7,537.1 261.9,534.2 262.1,537.2 262.3,532.7 262.5,537.5 262.7,534.3 262.9,538.1 263.1,530.6 263.3,535.4 263.5,534.6 263.7,535.5 263.9,534.6 264.1,538.5 264.3,532.4 264.5,535.8 264.7,530.7 264.9,536.4 265.1,534.0 265.3,535.2 265.5,531.6 265.7,535.9 265.9,534.3 266.1,535.4 266.3,532.3 266.5,537.3 266.7,532.4 266.9,536.8 267.1,533.8 267.3,535.2 267.5,534.7 267.7,535.7 267.9,534.1 268.1,537.1 268.3,530.5 268.5,536.9 268.7,532.9 268.9,537.5 269.1,533.3 269.3,535.4 269.5,532.1 269.7,539.6 269.9,539.0 270.1,535.0 270.3,534.1 270.5,537.0 270.7,533.2 270.9,540.0 271.1,533.3 271.3,535.2 271.5,531.5 271.7,537.3 271.9,531.8 272.1,534.8 272.3,538.4 272.5,530.5 272.7,531.9 272.9,535.2 273.1,532.5 273.3,536.0 273.5,539.9 273.7,535.7 273.9,533.7 274.1,536.3 274.3,533.7 274.5,537.1 274.7,531.4 274.9,536.3 275.1,538.8 275.3,535.7 275.5,533.4 275.7,537.3 275.9,533.5 276.1,535.0 276.3,531.1 276.5,538.8 276.7,533.3 276.9,534.1 277.1,531.6 277.3,535.8 277.5,533.3 277.7,534.5 277.9,531.7 278.1,538.6 278.3,531.9 278.5,535.9 278.7,531.8 278.9,534.7 279.1,533.1 279.3,536.9 279.5,533.6 279.7,533.9 279.9,531.6 280.1,527.7 280.3,530.2 280.5,534.4 280.7,531.6 280.9,535.5 281.1,531.5 281.3,537.7 281.5,532.3 281.7,533.8 281.9,531.3 282.1,529.2 282.3,532.2 282.5,535.4 282.7,532.6 282.9,536.1 283.1,529.8 283.3,534.2 283.5,532.5 283.7,533.7 283.9,530.8 284.1,536.1 284.3,530.9 284.5,535.7 284.7,528.4 284.9,535.0 285.1,527.4 285.3,533.8 285.5,530.2 285.7,534.4 285.9,529.7 286.1,533.8 286.3,532.2 286.5,534.7 286.7,531.5 286.9,535.5 287.1,531.1 287.3,535.8 287.5,531.8 287.7,533.3 287.9,530.4 288.1,533.4 288.3,531.6 288.5,532.7 288.7,529.2 288.9,535.2 289.1,531.1 289.3,532.6 289.5,531.2 289.7,534.9 289.9,530.7 290.1,535.0 290.3,530.4 290.5,532.4 290.7,529.9 290.9,532.4 291.1,528.6 291.3,531.8 291.5,531.6 291.7,533.5 291.9,531.0 292.1,533.5 292.3,537.1 292.5,531.9 292.7,528.2 292.9,533.2 293.1,529.6 293.3,536.9 293.5,535.2 293.7,535.4 293.9,529.3 294.1,534.0 294.3,528.6 294.5,533.1 294.7,525.6 294.9,532.8 295.1,528.5 295.3,533.5 295.5,527.7 295.7,536.1 295.9,529.7 296.1,533.1 296.3,536.5 296.5,532.8 296.7,535.7 296.9,531.9 297.1,528.7 297.3,532.0 297.5,527.5 297.7,532.9 297.9,530.1 298.1,531.1 298.3,528.0 298.5,532.6 298.7,529.4 298.9,532.0 299.0,523.2 299.1,527.0 299.3,533.0 299.5,526.7 299.7,531.0" fill="none" stroke="#0303dc" stroke-width="1" shape-rendering="crispEdges"/>
<path d="M114 360.5h3M301 360.5h-4M114 385.5h3M301 385.5h-4M114 410.5h3M301 410.5h-4M114 435.5h3M301 435.5h-4M114 460.5h3M301 460.5h-4M114 484.5h3M301 484.5h-4M114 509.5h3M301 509.5h-4M114 534.5h3M301 534.5h-4M114 559.5h3M301 559.5h-4M123.5 570v-4M123.5 351v5M160.5 570v-4M160.5 351v5M197.5 570v-4M197.5 351v5M234.5 570v-4M234.5 351v5M272.5 570v-4M272.5 351v5" stroke="#000" stroke-width="1" fill="none" shape-rendering="crispEdges"/>
<rect x="114.5" y="351.5" width="186" height="218" fill="none" stroke="#000" stroke-width="1" shape-rendering="crispEdges"/>
<g class="t" filter="url(#crisp)">
<text x="109.4" y="362.6" font-size="10.0" text-anchor="end">0</text>
<text x="109.4" y="387.6" font-size="10.0" text-anchor="end">-5</text>
<text x="109.4" y="412.6" font-size="10.0" text-anchor="end">-10</text>
<text x="109.4" y="437.6" font-size="10.0" text-anchor="end">-15</text>
<text x="109.4" y="462.6" font-size="10.0" text-anchor="end">-20</text>
<text x="109.4" y="486.6" font-size="10.0" text-anchor="end">-25</text>
<text x="109.4" y="511.6" font-size="10.0" text-anchor="end">-30</text>
<text x="109.4" y="536.6" font-size="10.0" text-anchor="end">-35</text>
<text x="109.4" y="561.6" font-size="10.0" text-anchor="end">-40</text>
<text x="123.5" y="580.0" font-size="10.0" text-anchor="middle">0</text>
<text x="160.5" y="580.0" font-size="10.0" text-anchor="middle" textLength="23.0" lengthAdjust="spacingAndGlyphs">2000</text>
<text x="197.5" y="580.0" font-size="10.0" text-anchor="middle" textLength="23.0" lengthAdjust="spacingAndGlyphs">4000</text>
<text x="234.5" y="580.0" font-size="10.0" text-anchor="middle" textLength="23.0" lengthAdjust="spacingAndGlyphs">6000</text>
<text x="272.5" y="580.0" font-size="10.0" text-anchor="middle" textLength="23.0" lengthAdjust="spacingAndGlyphs">8000</text>
<text x="165.0" y="596.0" font-size="11.0" text-anchor="start" textLength="76.6" lengthAdjust="spacingAndGlyphs">relative delay (ns)</text>
<text transform="translate(86.5 463.6) rotate(-90)" font-size="9.6" text-anchor="middle" textLength="82" lengthAdjust="spacingAndGlyphs">relative power (dB)</text>
</g>
<path d="M359 360.5H546M359 385.5H546M359 410.5H546M359 435.5H546M359 460.5H546M359 484.5H546M359 509.5H546M359 534.5H546M359 559.5H546M368.5 353V569M405.5 353V569M443.5 353V569M480.5 353V569M517.5 353V569" stroke="#000" stroke-width="1" stroke-dasharray="1 4" fill="none" shape-rendering="crispEdges"/>
<polyline points="359.3,518.7 359.5,521.7 359.7,519.0 359.9,520.2 360.1,515.4 360.3,521.2 360.5,514.2 360.7,517.3 360.9,512.4 361.1,516.9 361.3,513.5 361.5,515.0 361.7,511.4 361.9,512.1 362.1,509.4 362.3,511.5 362.5,507.5 362.7,512.5 362.9,505.1 363.1,509.2 363.3,502.0 363.5,511.2 363.7,502.0 363.9,510.1 364.1,503.2 364.3,503.6 364.5,500.5 364.7,503.8 364.9,488.2 365.1,492.6 365.3,482.0 365.5,478.0 365.7,462.3 365.9,464.5 366.2,449.1 366.5,469.4 366.8,449.6 367.1,360.0 367.4,449.1 367.7,409.8 368.0,360.0 368.3,409.8 369.0,409.8 369.2,459.0 369.5,414.7 369.8,459.0 370.1,419.7 370.4,459.0 370.7,424.7 371.2,393.8 371.5,459.0 371.8,469.4 372.1,459.5 372.4,479.4 372.7,464.5 373.0,484.4 373.3,469.4 373.6,484.4 374.3,434.1 374.6,489.4 375.0,479.4 375.3,499.3 375.7,494.5 375.9,501.6 376.1,499.1 376.3,506.1 376.5,501.1 376.7,506.0 376.9,500.3 377.1,510.4 377.3,500.0 377.5,513.0 377.7,507.0 377.9,513.2 378.1,505.1 378.3,512.4 378.5,504.1 378.7,510.7 378.9,506.8 379.1,519.1 379.3,506.0 379.5,518.3 379.7,502.4 379.9,512.4 380.1,506.1 380.3,515.3 380.5,502.3 380.7,512.6 380.9,508.7 381.1,508.9 381.3,493.9 381.5,506.7 381.7,493.3 381.9,500.1 382.1,479.2 382.3,486.1 382.5,459.9 382.7,461.2 382.9,447.5 383.1,447.3 383.3,435.8 383.5,450.8 383.5,431.6 383.7,440.1 383.9,455.8 384.1,442.5 384.3,455.5 384.5,447.9 384.7,456.5 384.9,447.7 385.1,455.7 385.3,438.8 385.5,454.0 385.7,438.7 385.9,451.0 386.0,427.2 386.1,433.6 386.3,446.9 386.5,437.6 386.7,452.3 386.9,440.9 387.1,453.7 387.3,448.0 387.5,466.5 387.7,460.7 387.9,476.3 388.1,459.5 388.3,477.8 388.5,466.1 388.7,490.6 388.9,472.4 389.1,486.6 389.3,480.5 389.5,486.6 389.7,483.9 389.9,499.0 390.1,489.6 390.3,501.0 390.5,486.5 390.7,502.3 390.9,495.2 391.1,503.6 391.3,497.2 391.5,506.6 391.7,494.9 391.9,509.6 392.1,500.3 392.3,513.7 392.5,505.8 392.7,510.4 392.9,503.8 393.1,512.5 393.3,510.4 393.5,517.7 393.7,508.9 393.9,518.8 394.1,512.8 394.3,521.2 394.5,515.0 394.7,522.5 394.9,516.7 395.1,524.8 395.3,518.5 395.5,525.1 395.7,516.8 395.9,530.2 396.1,522.9 396.3,531.4 396.5,525.9 396.7,528.9 396.9,521.9 397.1,529.1 397.3,523.8 397.5,535.0 397.7,524.4 397.9,532.0 398.1,528.7 398.3,532.5 398.5,525.8 398.7,535.6 398.9,526.5 399.1,536.4 399.3,526.7 399.5,535.6 399.7,523.8 399.9,532.1 400.1,522.1 400.3,535.1 400.5,526.6 400.7,538.6 400.9,523.2 401.1,531.2 401.3,523.6 401.5,525.6 401.7,516.6 401.9,519.2 402.1,498.6 402.3,495.2 402.5,474.3 402.6,472.4 402.7,484.4 402.9,479.6 403.1,493.5 403.3,492.0 403.5,505.7 403.7,496.5 403.9,517.1 404.1,515.4 404.3,527.7 404.5,521.2 404.7,528.0 404.9,517.8 405.1,525.9 405.3,524.4 405.5,531.3 405.7,523.4 405.9,529.6 406.1,524.9 406.3,532.4 406.5,526.1 406.7,534.1 406.9,526.7 407.1,533.3 407.3,530.9 407.5,539.0 407.7,532.3 407.9,541.6 408.1,534.3 408.3,537.5 408.5,535.0 408.7,537.5 408.9,533.5 409.1,538.5 409.3,533.5 409.5,538.7 409.7,534.1 409.9,539.0 410.1,536.7 410.3,537.7 410.5,535.5 410.7,539.1 410.9,535.8 411.1,539.4 411.3,530.8 411.5,540.3 411.7,534.7 411.9,537.3 412.1,542.8 412.3,537.3 412.5,534.9 412.5,521.2 412.7,538.6 412.9,536.0 413.1,542.3 413.3,533.8 413.5,532.0 413.7,536.9 413.9,540.4 414.1,534.9 414.3,539.4 414.5,536.6 414.7,541.2 414.9,534.1 415.1,540.1 415.3,537.2 415.5,538.4 415.7,534.5 415.9,541.1 416.1,542.5 416.3,538.4 416.5,536.9 416.7,540.7 416.9,535.6 417.1,539.4 417.3,535.5 417.5,540.8 417.7,537.4 417.9,543.1 418.1,543.7 418.3,543.5 418.5,544.0 418.7,540.7 418.9,534.5 419.1,543.2 419.3,537.6 419.5,539.7 419.7,535.6 419.9,542.1 420.1,536.1 420.3,539.3 420.5,536.7 420.7,541.8 420.9,535.3 421.1,538.7 421.3,535.0 421.5,531.6 421.7,543.7 421.9,538.8 422.1,536.0 422.3,532.2 422.5,536.2 422.7,539.2 422.9,534.9 423.1,540.0 423.3,536.0 423.5,540.9 423.7,536.0 423.9,542.4 424.1,538.8 424.3,540.1 424.5,537.5 424.7,541.3 424.9,538.7 425.1,540.5 425.3,537.0 425.5,541.1 425.7,535.3 425.9,540.6 426.1,535.8 426.3,541.7 426.5,539.1 426.7,539.5 426.9,539.1 427.1,541.3 427.3,536.0 427.5,539.3 427.7,536.3 427.9,539.9 428.1,536.9 428.3,542.8 428.5,546.7 428.7,541.9 428.9,538.8 429.1,543.1 429.3,537.0 429.4,526.7 429.5,544.7 429.7,536.0 429.9,541.3 430.1,537.5 430.3,543.6 430.5,535.9 430.7,542.0 430.9,535.0 431.1,546.6 431.3,545.2 431.5,543.2 431.7,534.8 431.9,543.9 432.1,539.7 432.3,541.5 432.5,537.5 432.7,541.7 432.9,541.0 433.1,542.9 433.3,540.1 433.5,543.9 433.7,541.4 433.9,542.6 434.1,539.8 434.3,539.7 434.5,537.1 434.7,537.6 434.9,531.4 435.1,536.2 435.3,531.7 435.5,535.1 435.7,530.9 435.9,533.8 436.1,531.7 436.3,537.8 436.5,531.6 436.7,533.6 436.9,531.6 437.1,533.6 437.3,530.5 437.5,535.9 437.5,521.2 437.7,531.7 437.9,534.0 438.1,530.9 438.3,533.8 438.5,532.0 438.7,535.9 438.9,530.9 439.1,535.2 439.3,531.8 439.5,538.6 439.5,524.2 439.7,532.1 439.9,536.1 440.1,533.1 440.3,533.9 440.5,529.8 440.7,536.0 440.9,536.8 441.1,544.1 441.3,541.9 441.5,540.2 441.7,539.8 441.9,547.3 442.1,540.6 442.3,547.0 442.5,542.7 442.7,547.2 442.9,540.9 443.1,548.2 443.3,542.0 443.5,537.8 443.7,540.7 443.9,538.9 444.1,542.7 444.3,544.2 444.5,538.0 444.7,547.8 444.9,533.9 445.0,525.7 445.1,539.1 445.3,536.5 445.5,541.0 445.7,545.1 445.9,540.6 446.1,537.7 446.3,540.3 446.5,533.2 446.7,540.9 446.9,537.5 447.1,540.2 447.3,536.7 447.5,541.9 447.7,534.1 447.9,538.4 448.1,535.5 448.3,531.2 448.5,534.2 448.7,541.8 448.9,537.8 449.1,544.8 449.3,531.4 449.5,539.3 449.7,533.4 449.9,531.9 450.1,543.9 450.3,542.0 450.5,537.6 450.7,541.2 450.9,544.7 451.1,544.5 451.3,541.2 451.5,542.9 451.7,547.0 451.9,544.1 452.1,540.9 452.3,548.5 452.5,540.7 452.5,531.1 452.7,544.4 452.9,541.1 453.1,544.6 453.3,539.3 453.5,545.5 453.7,541.0 453.9,544.9 454.1,540.1 454.3,545.5 454.5,541.2 454.7,544.2 454.9,541.1 455.1,542.9 455.3,541.5 455.5,545.8 455.7,548.0 455.9,543.0 456.1,540.0 456.3,545.1 456.5,541.4 456.7,545.4 456.9,539.5 457.1,545.9 457.3,540.2 457.5,544.4 457.7,542.4 457.9,545.3 458.1,542.4 458.3,543.1 458.5,539.6 458.7,543.1 458.9,539.1 459.1,541.6 459.3,536.6 459.5,537.9 459.7,529.7 459.9,534.3 460.1,528.6 460.3,533.7 460.5,529.2 460.7,533.4 460.9,528.0 461.1,533.8 461.3,525.8 461.3,510.2 461.5,527.3 461.7,524.0 461.9,530.1 462.1,529.9 462.3,531.7 462.5,531.3 462.7,534.1 462.9,533.3 463.1,534.9 463.3,533.7 463.5,540.7 463.7,531.7 463.9,537.6 464.1,534.2 464.3,538.6 464.5,533.7 464.7,537.4 464.9,533.8 465.1,536.6 465.3,529.8 465.3,517.2 465.5,540.8 465.7,533.9 465.9,536.1 466.1,525.1 466.3,540.2 466.5,531.9 466.7,538.4 466.9,535.8 467.1,541.8 467.3,534.0 467.5,541.5 467.7,545.0 467.9,541.5 468.1,539.0 468.3,542.5 468.5,539.4 468.7,535.1 468.9,540.5 469.1,544.9 469.3,541.9 469.5,539.9 469.7,543.5 469.9,545.3 470.1,548.8 470.3,539.9 470.5,548.4 470.7,545.1 470.9,542.9 471.1,541.3 471.3,544.0 471.5,546.9 471.7,543.3 471.9,545.7 472.1,542.0 472.3,546.1 472.5,542.5 472.7,547.3 472.9,542.4 473.1,547.3 473.3,541.7 473.5,547.3 473.7,542.0 473.9,546.8 474.1,542.8 474.3,546.2 474.5,541.9 474.7,545.8 474.9,543.0 475.1,547.4 475.3,542.6 475.5,546.1 475.7,544.2 475.9,545.3 476.1,541.6 476.3,549.2 476.5,541.5 476.7,546.5 476.9,542.1 477.1,546.0 477.3,542.6 477.5,544.8 477.5,530.1 477.7,542.0 477.9,544.7 478.1,542.3 478.3,544.6 478.5,541.9 478.7,547.1 478.9,542.7 479.1,544.9 479.3,547.5 479.5,546.0 479.7,542.3 479.9,546.8 480.1,542.5 480.3,546.8 480.5,541.6 480.7,544.0 480.9,542.3 481.1,544.3 481.3,542.7 481.5,543.8 481.7,542.8 481.9,537.1 482.1,539.7 482.3,544.5 482.5,540.5 482.7,542.7 482.9,539.6 483.1,543.6 483.3,539.4 483.5,543.7 483.7,541.8 483.9,546.0 484.1,540.1 484.3,544.8 484.5,541.3 484.7,545.9 484.9,540.9 485.1,546.0 485.3,541.0 485.5,546.0 485.7,541.9 485.9,545.9 486.1,538.3 486.3,545.4 486.5,538.7 486.7,546.6 486.9,542.0 487.1,544.6 487.3,540.1 487.5,542.9 487.7,536.7 487.9,545.5 488.1,541.9 488.3,544.8 488.5,542.0 488.7,545.3 488.9,539.6 489.1,551.0 489.3,548.4 489.5,543.9 489.7,539.1 489.9,534.0 490.1,541.9 490.3,545.5 490.5,539.0 490.7,547.2 490.9,536.5 491.1,544.4 491.3,536.1 491.5,543.5 491.7,538.2 491.9,546.7 492.1,541.8 492.3,545.7 492.5,542.2 492.7,544.5 492.9,540.9 493.1,545.8 493.3,541.1 493.5,547.2 493.7,541.9 493.9,544.8 494.1,542.7 494.3,536.5 494.5,542.8 494.7,545.1 494.9,542.2 495.1,544.9 495.3,540.0 495.5,543.9 495.7,541.6 495.9,545.4 496.1,543.3 496.3,544.1 496.5,542.7 496.7,545.2 496.9,543.6 497.1,544.1 497.3,542.4 497.5,539.0 497.7,539.7 497.9,544.2 498.1,540.3 498.3,546.9 498.5,541.0 498.7,546.1 498.9,540.3 499.1,546.6 499.3,541.0 499.5,549.6 499.7,541.6 499.9,549.3 500.1,549.4 500.3,542.6 500.5,540.1 500.7,542.6 500.9,539.0 501.1,542.1 501.3,539.1 501.5,544.2 501.7,538.1 501.9,542.3 502.1,536.4 502.3,545.1 502.5,540.5 502.7,542.0 502.9,540.2 503.1,544.5 503.3,537.5 503.5,542.5 503.7,539.1 503.9,548.4 504.1,541.0 504.3,541.6 504.5,537.3 504.7,534.7 504.9,541.2 505.1,543.3 505.3,548.4 505.5,544.9 505.7,538.8 505.9,546.0 506.1,538.4 506.3,542.8 506.5,535.6 506.5,531.1 506.7,544.8 506.9,537.7 507.1,546.4 507.3,537.9 507.5,545.5 507.7,539.9 507.9,546.4 508.1,540.4 508.3,546.1 508.5,541.2 508.7,543.2 508.9,539.5 509.1,544.6 509.3,540.5 509.5,545.4 509.7,538.5 509.9,546.9 510.1,542.3 510.3,542.7 510.5,538.8 510.7,535.9 510.9,539.7 511.1,546.8 511.3,538.7 511.5,544.2 511.7,542.0 511.9,545.4 512.1,542.3 512.3,547.0 512.5,538.1 512.7,546.1 512.9,540.0 513.1,544.7 513.3,541.2 513.5,546.5 513.7,540.9 513.9,544.0 514.1,536.9 514.3,543.5 514.5,540.6 514.7,546.6 514.9,542.0 515.1,543.0 515.3,541.7 515.5,543.8 515.7,539.0 515.9,548.9 516.1,541.6 516.3,545.8 516.5,538.5 516.7,542.7 516.9,538.2 517.1,544.8 517.3,540.7 517.5,534.7 517.7,538.5 517.9,546.4 518.1,547.9 518.3,549.2 518.5,540.1 518.7,543.6 518.9,541.1 519.1,544.1 519.3,538.2 519.5,546.7 519.7,540.2 519.9,547.0 520.1,539.2 520.3,544.8 520.5,540.7 520.7,547.9 520.9,541.8 521.1,545.8 521.3,541.6 521.5,544.7 521.7,540.7 521.9,545.5 522.1,541.9 522.3,542.3 522.5,539.7 522.7,542.9 522.9,540.2 523.1,545.2 523.3,540.6 523.5,546.4 523.7,540.5 523.9,542.6 524.1,540.5 524.3,545.5 524.5,533.5 524.7,546.1 524.9,540.3 525.1,547.4 525.3,541.1 525.5,545.4 525.7,537.8 525.9,544.0 526.1,536.6 526.3,543.8 526.5,537.1 526.7,542.1 526.9,537.0 527.1,546.0 527.3,539.2 527.5,543.3 527.7,539.1 527.9,545.7 528.1,534.1 528.3,544.4 528.5,536.0 528.7,542.6 528.9,537.1 529.1,544.0 529.3,532.9 529.5,542.0 529.7,533.5 529.9,537.6 530.1,531.5 530.3,538.0 530.5,532.4 530.7,537.5 530.9,545.0 531.1,536.6 531.3,534.6 531.5,539.2 531.7,532.0 531.9,536.1 532.1,533.5 532.3,540.6 532.5,534.9 532.7,540.3 532.9,534.9 533.1,540.0 533.3,544.2 533.5,538.2 533.7,534.1 533.9,528.3 534.1,531.2 534.3,536.1 534.5,530.9 534.7,542.9 534.9,532.0 535.1,540.4 535.3,532.8 535.5,537.4 535.5,524.2 535.7,534.0 535.9,527.5 536.1,535.7 536.3,541.0 536.5,531.9 536.7,529.3 536.9,535.6 537.1,537.5 537.3,532.0 537.5,537.6 537.7,532.2 537.9,540.8 538.1,534.5 538.3,537.1 538.5,534.9 538.7,539.7 538.9,542.3 539.1,538.8 539.3,535.3 539.5,540.0 539.7,533.7 539.9,540.6 540.1,532.8 540.3,529.4 540.5,534.8 540.7,538.1 540.9,533.4 541.1,540.6 541.3,532.3 541.5,541.3 541.7,535.9 541.9,540.1 542.1,530.3 542.3,536.9 542.3,515.2 542.5,529.6 542.7,532.5 542.9,516.3 543.1,530.9 543.3,526.7 543.5,536.8 543.7,530.2 543.9,537.8 544.1,525.3 544.3,533.0 544.5,524.1 544.7,535.2 544.9,525.6 545.1,535.5 545.3,530.3 545.5,533.5 545.7,530.7" fill="none" stroke="#0303dc" stroke-width="1" shape-rendering="crispEdges"/>
<path d="M359 360.5h3M547 360.5h-4M359 385.5h3M547 385.5h-4M359 410.5h3M547 410.5h-4M359 435.5h3M547 435.5h-4M359 460.5h3M547 460.5h-4M359 484.5h3M547 484.5h-4M359 509.5h3M547 509.5h-4M359 534.5h3M547 534.5h-4M359 559.5h3M547 559.5h-4M368.5 570v-4M368.5 351v5M405.5 570v-4M405.5 351v5M443.5 570v-4M443.5 351v5M480.5 570v-4M480.5 351v5M517.5 570v-4M517.5 351v5" stroke="#000" stroke-width="1" fill="none" shape-rendering="crispEdges"/>
<rect x="359.5" y="351.5" width="187" height="218" fill="none" stroke="#000" stroke-width="1" shape-rendering="crispEdges"/>
<g class="t" filter="url(#crisp)">
<text x="354.4" y="362.6" font-size="10.0" text-anchor="end">0</text>
<text x="354.4" y="387.6" font-size="10.0" text-anchor="end">-5</text>
<text x="354.4" y="412.6" font-size="10.0" text-anchor="end">-10</text>
<text x="354.4" y="437.6" font-size="10.0" text-anchor="end">-15</text>
<text x="354.4" y="462.6" font-size="10.0" text-anchor="end">-20</text>
<text x="354.4" y="486.6" font-size="10.0" text-anchor="end">-25</text>
<text x="354.4" y="511.6" font-size="10.0" text-anchor="end">-30</text>
<text x="354.4" y="536.6" font-size="10.0" text-anchor="end">-35</text>
<text x="354.4" y="561.6" font-size="10.0" text-anchor="end">-40</text>
<text x="368.5" y="580.0" font-size="10.0" text-anchor="middle">0</text>
<text x="405.5" y="580.0" font-size="10.0" text-anchor="middle" textLength="23.0" lengthAdjust="spacingAndGlyphs">2000</text>
<text x="443.5" y="580.0" font-size="10.0" text-anchor="middle" textLength="23.0" lengthAdjust="spacingAndGlyphs">4000</text>
<text x="480.5" y="580.0" font-size="10.0" text-anchor="middle" textLength="23.0" lengthAdjust="spacingAndGlyphs">6000</text>
<text x="517.5" y="580.0" font-size="10.0" text-anchor="middle" textLength="23.0" lengthAdjust="spacingAndGlyphs">8000</text>
<text x="410.0" y="596.0" font-size="11.0" text-anchor="start" textLength="76.6" lengthAdjust="spacingAndGlyphs">relative delay (ns)</text>
<text transform="translate(331.5 463.6) rotate(-90)" font-size="9.6" text-anchor="middle" textLength="82" lengthAdjust="spacingAndGlyphs">relative power (dB)</text>
</g>
<path d="M604 360.5H791M604 385.5H791M604 410.5H791M604 435.5H791M604 460.5H791M604 484.5H791M604 509.5H791M604 534.5H791M604 559.5H791M613.5 353V569M650.5 353V569M688.5 353V569M725.5 353V569M762.5 353V569" stroke="#000" stroke-width="1" stroke-dasharray="1 4" fill="none" shape-rendering="crispEdges"/>
<polyline points="604.3,499.0 604.5,509.9 604.7,501.4 604.9,517.2 605.1,508.4 605.3,518.3 605.5,506.9 605.7,517.3 605.9,510.6 606.1,513.0 606.3,502.1 606.5,508.8 606.7,502.3 606.9,506.1 607.1,498.5 607.3,508.4 607.5,495.0 607.7,501.6 607.9,489.6 608.1,503.9 608.3,490.6 608.5,492.4 608.7,482.0 608.9,496.6 609.1,481.3 609.3,491.0 609.5,483.5 609.7,484.6 609.9,478.6 610.1,483.5 610.3,476.6 610.5,482.1 610.7,465.7 610.9,471.3 611.1,459.8 611.3,472.7 611.5,454.1 611.7,468.8 611.9,446.3 612.1,454.5 612.4,442.1 612.7,459.5 613.0,444.6 613.3,360.0 613.6,447.1 614.0,366.0 614.3,447.1 614.6,409.8 615.9,409.8 616.2,370.4 616.5,444.6 616.8,372.4 617.1,445.6 617.4,454.5 617.7,442.1 618.0,459.5 618.3,444.6 618.6,462.0 618.9,447.1 619.2,459.5 619.5,449.6 619.8,464.5 620.2,418.2 620.5,464.5 620.8,429.6 621.1,469.4 621.4,454.5 621.7,474.4 622.0,464.5 622.3,479.4 622.5,479.4 622.7,473.1 622.9,491.8 623.1,478.7 623.3,494.5 623.5,473.5 623.7,491.1 623.9,484.5 624.1,490.7 624.3,482.3 624.5,500.3 624.7,483.4 624.9,496.1 625.1,490.4 625.3,494.8 625.5,492.0 625.7,497.0 625.9,493.8 626.1,495.3 626.3,488.7 626.5,496.5 626.7,487.1 626.9,491.6 627.1,477.3 627.3,486.2 627.5,466.9 627.8,469.4 628.1,404.3 628.4,462.0 628.7,404.8 629.0,392.3 629.3,427.7 629.6,404.8 630.0,427.7 630.3,459.5 630.6,419.7 630.9,462.0 631.2,405.3 631.5,459.5 631.8,427.7 632.1,464.5 632.4,434.6 632.7,469.4 633.0,444.6 633.3,469.4 633.5,453.3 633.7,467.6 633.9,449.1 634.1,476.9 634.3,457.9 634.5,477.7 634.7,462.9 634.9,484.9 635.1,471.4 635.3,485.5 635.5,472.5 635.7,486.1 635.9,480.0 636.1,488.5 636.3,480.6 636.5,491.3 636.7,478.9 636.9,494.6 637.1,486.5 637.3,488.5 637.5,481.3 637.7,496.3 637.9,482.7 638.1,498.5 638.3,485.1 638.5,494.9 638.7,493.1 638.9,500.2 639.1,490.7 639.3,497.9 639.5,490.4 639.7,499.8 639.9,497.0 640.1,502.4 640.3,498.2 640.5,500.7 640.7,499.9 640.9,501.3 641.1,500.4 641.3,507.3 641.5,496.5 641.7,509.0 641.9,500.3 642.1,509.9 642.3,503.6 642.5,511.8 642.7,502.3 642.9,507.0 643.1,503.5 643.3,508.5 643.5,501.6 643.7,511.0 643.9,508.4 644.1,510.5 644.3,508.9 644.5,517.7 644.7,507.2 644.9,517.4 645.1,506.6 645.3,515.4 645.5,506.5 645.7,516.1 645.9,509.9 646.1,518.1 646.3,504.9 646.5,513.1 646.7,501.9 646.9,514.3 647.1,499.1 647.3,494.6 647.5,486.7 647.7,485.2 647.9,467.3 648.1,486.0 648.3,470.0 648.5,460.5 648.5,486.5 648.7,473.3 648.9,491.3 649.1,478.3 649.3,496.1 649.5,486.1 649.7,504.1 649.9,482.5 650.1,502.2 650.3,486.3 650.5,498.7 650.7,487.7 650.9,505.5 651.1,493.9 651.3,511.4 651.5,498.0 651.7,508.3 651.9,497.3 652.1,506.4 652.3,502.2 652.5,510.6 652.7,506.9 652.9,514.7 653.1,507.7 653.3,516.8 653.5,522.1 653.7,518.2 653.9,512.1 654.1,519.9 654.3,524.2 654.5,516.6 654.7,511.8 654.9,515.5 655.1,507.5 655.3,514.6 655.5,509.0 655.7,519.1 655.9,510.0 656.1,518.4 656.3,509.6 656.5,515.6 656.7,511.7 656.9,517.7 657.1,512.8 657.3,519.1 657.5,521.7 657.7,520.7 657.9,508.2 658.1,514.8 658.3,513.0 658.5,515.8 658.7,510.7 658.9,514.6 659.1,511.8 659.3,518.2 659.5,510.7 659.7,518.2 659.9,519.9 660.1,518.4 660.3,509.8 660.5,517.7 660.7,512.2 660.9,516.3 661.1,505.6 661.3,516.2 661.5,511.5 661.7,517.7 661.9,508.3 662.1,516.2 662.3,522.7 662.5,516.1 662.7,511.6 662.9,515.9 663.1,514.7 663.3,519.1 663.5,513.9 663.7,517.1 663.9,514.0 664.1,518.0 664.3,514.5 664.5,519.6 664.7,514.1 664.9,516.7 665.1,510.8 665.3,517.0 665.5,508.2 665.7,516.3 665.9,521.3 666.1,515.9 666.3,514.5 666.5,518.4 666.7,509.1 666.9,516.0 667.1,512.6 667.3,518.1 667.5,511.0 667.7,520.4 667.9,511.3 668.1,524.7 668.3,513.0 668.5,518.6 668.7,514.7 668.9,516.8 669.1,512.6 669.3,516.6 669.5,524.6 669.7,519.6 669.9,513.6 670.1,519.6 670.3,510.5 670.5,521.3 670.7,511.9 670.9,508.1 671.1,513.7 671.3,516.2 671.5,512.0 671.7,520.2 671.9,512.3 672.1,516.7 672.3,522.3 672.5,517.6 672.7,513.7 672.9,519.2 673.1,510.9 673.3,515.9 673.5,514.5 673.7,522.4 673.9,513.5 674.1,519.9 674.3,514.4 674.5,517.6 674.7,521.7 674.9,516.4 675.1,509.9 675.3,518.6 675.5,513.0 675.7,518.1 675.9,510.0 676.1,515.7 676.3,509.7 676.5,516.0 676.7,509.2 676.9,518.1 677.1,510.9 677.3,515.8 677.5,513.3 677.7,517.7 677.9,509.7 678.1,515.9 678.3,513.3 678.5,515.9 678.7,509.1 678.9,514.5 679.1,511.6 679.3,518.1 679.5,509.7 679.7,516.1 679.9,511.5 680.1,503.2 680.3,510.1 680.5,516.3 680.7,508.6 680.9,512.9 681.1,509.2 681.3,511.1 681.5,507.9 681.7,515.9 681.9,510.0 682.1,500.1 682.3,505.5 682.5,513.7 682.7,506.7 682.9,513.6 683.1,507.8 683.3,511.9 683.5,504.7 683.7,518.3 683.9,505.6 684.1,514.4 684.3,508.9 684.5,514.1 684.7,505.9 684.9,514.4 685.1,506.7 685.3,513.7 685.5,504.4 685.7,503.3 685.9,508.1 686.1,512.6 686.3,520.3 686.5,512.9 686.7,508.1 686.9,515.9 687.1,510.7 687.3,516.3 687.5,511.6 687.7,518.6 687.9,518.0 688.1,523.5 688.3,517.7 688.5,519.3 688.7,527.0 688.9,512.5 689.1,514.3 689.3,518.8 689.5,509.1 689.7,518.7 689.9,518.0 690.1,522.4 690.3,515.4 690.5,519.1 690.7,511.5 690.9,520.2 691.1,510.2 691.3,510.2 691.5,517.5 691.7,522.4 691.9,517.4 692.1,524.2 692.3,515.0 692.5,520.3 692.7,513.2 692.9,519.7 693.1,516.7 693.3,521.8 693.5,525.6 693.7,517.9 693.9,514.7 694.1,517.8 694.3,514.8 694.5,516.6 694.7,510.6 694.9,518.6 695.1,511.9 695.3,519.0 695.5,514.5 695.7,515.8 695.9,510.4 696.1,516.0 696.3,510.4 696.5,515.2 696.7,510.2 696.9,517.9 697.1,512.1 697.3,517.6 697.5,510.7 697.7,518.4 697.9,513.6 698.1,519.3 698.3,513.1 698.5,515.4 698.7,513.3 698.9,507.7 699.1,510.3 699.3,523.1 699.5,514.6 699.7,515.9 699.9,512.2 700.1,517.5 700.3,513.8 700.5,517.5 700.7,512.6 700.9,515.9 701.1,512.3 701.3,519.5 701.5,510.9 701.7,516.4 701.9,511.1 702.1,514.2 702.3,508.7 702.5,514.8 702.7,508.5 702.9,513.2 703.1,506.7 703.3,513.6 703.5,519.7 703.7,511.7 703.9,506.3 704.1,508.5 704.3,500.9 704.5,506.7 704.7,499.0 704.9,494.7 705.1,515.0 705.3,517.4 705.5,495.3 705.5,501.4 705.7,509.9 705.9,503.8 706.1,518.4 706.3,506.3 706.5,510.0 706.7,502.8 706.9,510.7 707.1,505.5 707.3,511.2 707.5,504.8 707.7,511.6 707.9,506.2 708.1,512.7 708.3,508.8 708.5,516.0 708.7,505.5 708.9,515.9 709.1,508.3 709.3,515.2 709.5,519.8 709.7,512.9 709.9,504.1 710.1,516.4 710.3,508.0 710.5,512.3 710.7,510.7 710.9,517.4 711.1,509.5 711.3,502.8 711.5,523.9 711.7,518.3 711.9,520.2 712.1,518.5 712.3,504.7 712.5,517.8 712.7,507.6 712.9,520.4 713.1,509.9 713.3,514.9 713.5,509.3 713.7,515.3 713.9,512.1 714.1,504.2 714.3,507.5 714.5,514.4 714.7,512.9 714.9,502.4 715.1,506.0 715.3,514.6 715.5,511.9 715.7,523.2 715.9,509.0 716.1,518.5 716.3,510.3 716.5,515.7 716.7,509.6 716.9,519.7 717.1,515.6 717.3,509.3 717.5,515.1 717.7,517.7 717.9,512.7 718.1,520.0 718.3,513.4 718.5,526.3 718.7,509.8 718.9,517.7 719.1,509.3 719.3,516.0 719.5,527.8 719.7,516.6 719.9,505.6 720.1,515.1 720.3,509.8 720.5,520.7 720.7,510.9 720.9,518.5 721.1,506.9 721.3,521.1 721.5,511.6 721.7,517.4 721.9,510.6 722.0,499.3 722.1,521.2 722.3,508.8 722.5,514.8 722.7,513.4 722.9,516.8 723.1,508.3 723.3,524.7 723.5,508.0 723.7,499.2 723.9,506.1 724.1,525.7 724.3,511.3 724.5,518.6 724.7,527.1 724.9,521.6 725.1,511.7 725.3,514.3 725.5,513.6 725.7,517.6 725.9,501.1 726.1,514.5 726.3,508.8 726.5,500.9 726.7,509.3 726.9,522.0 727.0,499.3 727.1,513.4 727.3,522.2 727.5,505.5 727.7,515.2 727.9,510.5 728.1,515.3 728.3,508.8 728.5,520.5 728.7,507.2 728.9,517.0 729.1,512.0 729.3,514.0 729.5,505.7 729.7,515.8 729.9,511.7 730.1,520.6 730.3,505.3 730.5,516.2 730.7,508.6 730.9,516.2 731.1,507.6 731.3,527.9 731.5,511.9 731.7,507.4 731.9,511.7 732.1,517.0 732.3,511.6 732.5,522.4 732.7,515.7 732.9,519.5 733.1,515.1 733.3,519.8 733.5,518.2 733.7,520.5 733.9,517.6 734.1,521.8 734.3,517.2 734.5,517.6 734.7,514.2 734.9,519.8 735.1,514.8 735.3,520.9 735.5,512.2 735.7,520.3 735.9,512.9 736.1,518.4 736.3,510.8 736.5,520.6 736.7,514.1 736.9,516.0 737.1,511.6 737.3,507.2 737.5,514.7 737.7,518.0 737.9,513.8 738.1,517.5 738.3,512.0 738.5,520.3 738.7,510.8 738.9,516.4 739.1,513.5 739.3,519.0 739.5,513.8 739.7,519.1 739.9,515.4 740.1,520.0 740.3,513.2 740.5,518.6 740.7,512.8 740.9,517.3 741.1,511.1 741.3,510.0 741.5,510.9 741.7,519.8 741.9,508.0 742.1,517.0 742.3,512.8 742.5,518.2 742.7,513.4 742.9,519.1 743.1,514.4 743.3,520.2 743.5,513.3 743.7,518.6 743.9,511.5 744.1,516.4 744.3,513.5 744.5,507.2 744.7,512.2 744.9,521.2 745.1,512.0 745.3,519.0 745.5,511.3 745.7,511.1 745.9,516.2 746.1,521.2 746.3,510.6 746.5,521.7 746.7,523.8 746.9,510.5 747.1,516.7 747.3,519.4 747.5,517.2 747.7,520.6 747.9,515.4 748.1,522.9 748.3,518.0 748.5,522.4 748.7,517.7 748.9,521.6 749.1,518.1 749.3,526.8 749.5,518.8 749.7,521.1 749.9,515.2 750.1,524.5 750.3,515.6 750.5,518.9 750.7,513.4 750.9,519.2 751.1,510.7 751.3,521.9 751.5,516.0 751.7,521.8 751.9,525.9 752.1,518.6 752.3,513.5 752.5,521.3 752.7,512.5 752.9,520.8 753.1,514.7 753.3,519.4 753.5,513.6 753.7,520.2 753.9,514.4 754.1,518.8 754.3,511.6 754.5,521.5 754.7,510.2 754.9,514.6 755.1,510.4 755.3,513.5 755.5,509.8 755.7,514.3 755.9,508.7 756.1,515.3 756.3,511.8 756.5,518.0 756.7,509.1 756.9,522.4 757.1,512.3 757.3,518.4 757.5,512.7 757.7,505.1 757.9,511.8 758.1,517.8 758.3,511.7 758.5,514.7 758.7,509.6 758.9,517.1 759.1,513.0 759.3,514.3 759.5,521.4 759.7,516.6 759.9,506.5 760.1,515.2 760.3,509.8 760.5,514.2 760.7,508.5 760.9,518.1 761.1,513.0 761.3,517.7 761.5,511.6 761.7,503.8 761.9,509.8 762.1,518.2 762.3,510.8 762.5,518.0 762.7,511.3 762.9,514.0 763.1,510.6 763.3,517.3 763.5,510.6 763.7,519.7 763.9,507.6 764.1,513.9 764.3,509.9 764.5,525.8 764.7,501.5 764.9,527.0 765.1,513.1 765.3,518.8 765.5,509.7 765.7,521.1 765.9,507.2 766.1,517.7 766.3,514.5 766.5,517.8 766.7,513.1 766.9,519.4 767.1,502.2 767.3,517.0 767.5,511.1 767.7,516.2 767.9,515.2 768.1,520.2 768.3,526.9 768.5,521.6 768.7,511.8 768.9,518.9 769.1,524.9 769.3,517.8 769.5,514.9 769.7,518.8 769.9,510.8 770.1,518.1 770.3,512.4 770.5,520.5 770.7,515.3 770.9,517.4 771.1,512.3 771.3,520.7 771.5,512.0 771.7,519.4 771.9,524.2 772.1,517.7 772.3,516.1 772.5,522.2 772.7,516.0 772.9,521.9 773.1,516.4 773.3,520.7 773.5,515.4 773.7,521.0 773.9,515.2 774.1,519.1 774.3,513.4 774.5,517.7 774.7,514.6 774.9,524.1 775.1,515.6 775.3,520.8 775.5,515.2 775.7,525.5 775.9,523.0 776.1,521.8 776.3,514.0 776.5,519.8 776.7,511.0 776.9,520.6 777.1,513.2 777.3,523.5 777.5,513.3 777.7,520.9 777.9,513.6 778.1,521.4 778.3,516.0 778.5,521.2 778.7,512.0 778.9,516.7 779.1,510.8 779.3,523.0 779.5,514.8 779.7,520.1 779.9,513.1 780.1,518.2 780.3,513.2 780.5,516.8 780.7,509.4 780.9,521.4 781.1,511.7 781.3,516.7 781.5,511.5 781.7,516.8 781.9,514.0 782.1,519.2 782.3,516.6 782.5,517.3 782.7,511.6 782.9,519.1 783.1,515.8 783.3,520.9 783.5,510.9 783.7,517.4 783.9,515.7 784.1,518.0 784.3,516.9 784.5,522.3 784.7,514.8 784.9,521.6 785.1,513.9 785.3,518.6 785.5,514.0 785.7,520.8 785.9,514.5 786.1,522.6 786.3,513.0 786.5,517.4 786.7,512.3 786.9,522.2 787.1,524.2 787.3,521.4 787.5,515.5 787.7,522.6 787.9,516.0 788.1,510.3 788.3,516.8 788.5,520.9 788.7,514.5 788.9,523.8 789.1,511.5 789.3,519.7 789.5,525.0 789.7,520.7 789.9,507.3 790.0,496.8 790.1,521.5 790.3,509.4 790.5,512.3 790.7,505.7" fill="none" stroke="#0303dc" stroke-width="1" shape-rendering="crispEdges"/>
<path d="M604 360.5h3M792 360.5h-4M604 385.5h3M792 385.5h-4M604 410.5h3M792 410.5h-4M604 435.5h3M792 435.5h-4M604 460.5h3M792 460.5h-4M604 484.5h3M792 484.5h-4M604 509.5h3M792 509.5h-4M604 534.5h3M792 534.5h-4M604 559.5h3M792 559.5h-4M613.5 570v-4M613.5 351v5M650.5 570v-4M650.5 351v5M688.5 570v-4M688.5 351v5M725.5 570v-4M725.5 351v5M762.5 570v-4M762.5 351v5" stroke="#000" stroke-width="1" fill="none" shape-rendering="crispEdges"/>
<rect x="604.5" y="351.5" width="187" height="218" fill="none" stroke="#000" stroke-width="1" shape-rendering="crispEdges"/>
<g class="t" filter="url(#crisp)">
<text x="599.4" y="362.6" font-size="10.0" text-anchor="end">0</text>
<text x="599.4" y="387.6" font-size="10.0" text-anchor="end">-5</text>
<text x="599.4" y="412.6" font-size="10.0" text-anchor="end">-10</text>
<text x="599.4" y="437.6" font-size="10.0" text-anchor="end">-15</text>
<text x="599.4" y="462.6" font-size="10.0" text-anchor="end">-20</text>
<text x="599.4" y="486.6" font-size="10.0" text-anchor="end">-25</text>
<text x="599.4" y="511.6" font-size="10.0" text-anchor="end">-30</text>
<text x="599.4" y="536.6" font-size="10.0" text-anchor="end">-35</text>
<text x="599.4" y="561.6" font-size="10.0" text-anchor="end">-40</text>
<text x="613.5" y="580.0" font-size="10.0" text-anchor="middle">0</text>
<text x="650.5" y="580.0" font-size="10.0" text-anchor="middle" textLength="23.0" lengthAdjust="spacingAndGlyphs">2000</text>
<text x="688.5" y="580.0" font-size="10.0" text-anchor="middle" textLength="23.0" lengthAdjust="spacingAndGlyphs">4000</text>
<text x="725.5" y="580.0" font-size="10.0" text-anchor="middle" textLength="23.0" lengthAdjust="spacingAndGlyphs">6000</text>
<text x="762.5" y="580.0" font-size="10.0" text-anchor="middle" textLength="23.0" lengthAdjust="spacingAndGlyphs">8000</text>
<text x="655.0" y="596.0" font-size="11.0" text-anchor="start" textLength="76.6" lengthAdjust="spacingAndGlyphs">relative delay (ns)</text>
<text transform="translate(576.5 463.6) rotate(-90)" font-size="9.6" text-anchor="middle" textLength="82" lengthAdjust="spacingAndGlyphs">relative power (dB)</text>
</g>
</svg>
</body></html>
